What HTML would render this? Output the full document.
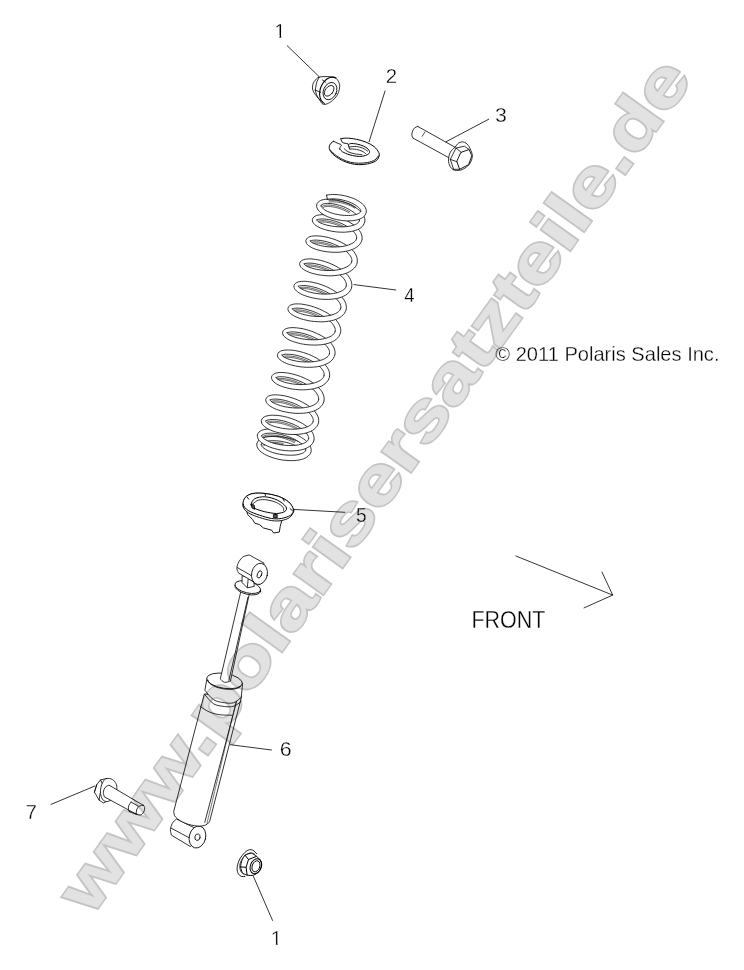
<!DOCTYPE html>
<html lang="de">
<head>
<meta charset="utf-8">
<title>Polaris Ersatzteile - Stossdaempfer</title>
<style>
html,body{margin:0;padding:0;background:#fff;}
body{width:744px;height:970px;overflow:hidden;position:relative;font-family:"Liberation Sans",sans-serif;}
svg{position:absolute;left:0;top:0;display:block;}
.ln{fill:none;stroke:#000;stroke-width:1;stroke-linecap:round;stroke-linejoin:round;}
.lf{fill:#fff;stroke:#000;stroke-width:1;stroke-linecap:round;stroke-linejoin:round;}
.ld{fill:none;stroke:#000;stroke-width:0.8;stroke-linecap:round;}
.lbl{font-family:"Liberation Sans",sans-serif;fill:#000;stroke:#fff;stroke-width:0.32px;}
.wm{font-family:"Liberation Sans",sans-serif;font-weight:bold;stroke-linejoin:miter;}
</style>
</head>
<body>
<svg width="744" height="970" viewBox="0 0 744 970">
<rect width="744" height="970" fill="#fff"/>
<g id="spring" stroke-linejoin="round" stroke-linecap="round">
<path d="M302.6 443.6 300.8 442.5 298.7 441.6 296.5 440.6 294.3 439.8 291.9 439.0 289.4 438.3 286.9 437.8 284.4 437.3 281.8 436.9 279.3 436.6 276.8 436.4 274.4 436.3 272.0 436.4 269.8 436.5 267.7 436.8 265.7 437.1 263.9 437.6 262.2 438.2 260.7 439.0 259.4 439.8 258.3 440.9 257.5 442.1 257.0 443.3 L261.1 444.7 261.3 444.1 261.6 443.6 262.1 443.1 262.8 442.6 263.9 442.1 265.1 441.7 266.6 441.3 268.3 441.0 270.2 440.8 272.2 440.7 274.3 440.7 276.5 440.8 278.8 441.0 281.2 441.3 283.5 441.8 285.9 442.3 288.2 442.9 290.4 443.6 292.6 444.3 294.7 445.2 296.6 446.0 298.4 447.0 300.0 448.0Z" fill="#fff" stroke="none"/>
<path d="M283.2 443.4 280.8 443.0 278.5 442.7 276.3 442.5 274.1 442.4 272.1 442.4 270.2 442.5 268.4 442.7 266.9 443.0 265.5 443.3 264.4 443.7 263.6 444.1 263.1 444.5 262.8 444.8 262.6 445.2 M283.0 444.7 280.6 444.3 278.4 444.0 276.2 443.8 274.1 443.7 272.1 443.7 270.3 443.8 268.6 444.0 267.2 444.2 265.9 444.6 265.0 444.9 264.3 445.3 263.9 445.5 263.8 445.6 263.7 445.9" fill="none" stroke="#000" stroke-width="0.7" opacity="0.85"/>
<path d="M302.6 443.6 300.8 442.5 298.7 441.6 296.5 440.6 294.3 439.8 291.9 439.0 289.4 438.3 286.9 437.8 284.4 437.3 281.8 436.9 279.3 436.6 276.8 436.4 274.4 436.3 272.0 436.4 269.8 436.5 267.7 436.8 265.7 437.1 263.9 437.6 262.2 438.2 260.7 439.0 259.4 439.8 258.3 440.9 257.5 442.1 257.0 443.3 M300.0 448.0 298.4 447.0 296.6 446.0 294.7 445.2 292.6 444.3 290.4 443.6 288.2 442.9 285.9 442.3 283.5 441.8 281.2 441.3 278.8 441.0 276.5 440.8 274.3 440.7 272.2 440.7 270.2 440.8 268.3 441.0 266.6 441.3 265.1 441.7 263.9 442.1 262.8 442.6 262.1 443.1 261.6 443.6 261.3 444.1 261.1 444.7 M302.6 443.6 L300.0 448.0" fill="none" stroke="#000" stroke-width="0.8"/>
<path d="M311.1 451.2 311.2 449.7 310.9 447.9 310.3 446.2 309.4 444.6 308.2 443.0 306.8 441.6 305.2 440.1 303.4 438.8 301.4 437.5 299.3 436.2 297.0 435.1 294.5 434.0 292.0 433.0 289.4 432.1 286.8 431.3 284.1 430.6 281.5 430.0 278.8 429.5 276.2 429.2 273.7 429.0 271.4 428.9 269.1 428.9 267.0 429.1 265.0 429.4 263.2 429.8 261.6 430.4 260.2 431.1 259.0 432.1 258.0 433.3 257.5 434.4 L261.6 436.0 261.7 435.4 262.0 435.1 262.5 434.7 263.3 434.3 264.4 433.9 265.8 433.5 267.4 433.3 269.3 433.2 271.3 433.2 273.4 433.3 275.7 433.5 278.1 433.9 280.5 434.4 283.0 435.0 285.5 435.7 287.9 436.5 290.3 437.4 292.6 438.4 294.8 439.4 296.9 440.6 298.7 441.7 300.4 442.9 301.9 444.1 303.2 445.3 304.2 446.4 304.9 447.4 305.4 448.4 305.6 449.2 305.7 449.8 305.6 450.6Z" fill="#fff" stroke="none"/>
<path d="M295.1 441.5 293.1 440.5 291.0 439.5 288.8 438.6 286.5 437.8 284.2 437.1 281.9 436.5 279.6 435.9 277.3 435.5 275.1 435.2 273.0 435.0 271.1 434.9 269.2 434.9 267.6 435.0 266.2 435.2 265.0 435.5 264.1 435.8 263.5 436.1 263.2 436.3 262.9 436.7 M294.6 442.7 292.5 441.7 290.5 440.7 288.4 439.9 286.1 439.1 283.9 438.3 281.6 437.7 279.4 437.2 277.1 436.8 275.0 436.5 273.0 436.3 271.0 436.2 269.3 436.2 267.7 436.3 266.4 436.5 265.3 436.7 264.6 437.0 264.2 437.2 264.1 437.3 263.9 437.5" fill="none" stroke="#000" stroke-width="0.7" opacity="0.85"/>
<path d="M311.1 451.2 311.2 449.7 310.9 447.9 310.3 446.2 309.4 444.6 308.2 443.0 306.8 441.6 305.2 440.1 303.4 438.8 301.4 437.5 299.3 436.2 297.0 435.1 294.5 434.0 292.0 433.0 289.4 432.1 286.8 431.3 284.1 430.6 281.5 430.0 278.8 429.5 276.2 429.2 273.7 429.0 271.4 428.9 269.1 428.9 267.0 429.1 265.0 429.4 263.2 429.8 261.6 430.4 260.2 431.1 259.0 432.1 258.0 433.3 257.5 434.4 M305.6 450.6 305.7 449.8 305.6 449.2 305.4 448.4 304.9 447.4 304.2 446.4 303.2 445.3 301.9 444.1 300.4 442.9 298.7 441.7 296.9 440.6 294.8 439.4 292.6 438.4 290.3 437.4 287.9 436.5 285.5 435.7 283.0 435.0 280.5 434.4 278.1 433.9 275.7 433.5 273.4 433.3 271.3 433.2 269.3 433.2 267.4 433.3 265.8 433.5 264.4 433.9 263.3 434.3 262.5 434.7 262.0 435.1 261.7 435.4 261.6 436.0" fill="none" stroke="#000" stroke-width="0.8"/>
<path d="M314.0 439.8 314.1 438.2 313.9 436.3 313.4 434.5 312.5 432.7 311.4 431.0 310.0 429.4 308.4 427.8 306.6 426.3 304.6 424.9 302.5 423.5 300.2 422.3 297.8 421.1 295.3 420.0 292.7 419.0 290.1 418.1 287.4 417.3 284.8 416.7 282.2 416.1 279.7 415.7 277.2 415.4 274.9 415.3 272.7 415.2 270.6 415.3 268.8 415.5 267.0 415.9 265.5 416.3 264.1 417.0 262.9 417.8 262.0 419.0 261.5 420.1 L265.6 421.5 265.7 421.2 265.8 421.0 266.3 420.6 267.0 420.3 268.1 420.0 269.4 419.7 270.9 419.6 272.7 419.5 274.7 419.6 276.8 419.7 279.0 420.1 281.4 420.5 283.8 421.0 286.2 421.7 288.6 422.5 291.1 423.4 293.4 424.3 295.7 425.4 297.9 426.5 299.9 427.8 301.8 429.0 303.4 430.3 304.9 431.6 306.1 432.9 307.1 434.1 307.8 435.3 308.3 436.4 308.6 437.3 308.7 438.2 308.5 439.2Z" fill="#fff" stroke="none"/>
<path d="M298.1 428.7 296.1 427.5 294.0 426.5 291.9 425.5 289.6 424.6 287.4 423.8 285.1 423.1 282.8 422.5 280.6 422.1 278.4 421.7 276.3 421.4 274.4 421.3 272.6 421.2 271.0 421.3 269.6 421.4 268.5 421.6 267.7 421.9 267.1 422.1 267.0 422.2 266.8 422.5 M297.5 429.8 295.5 428.7 293.5 427.7 291.4 426.7 289.2 425.9 287.0 425.1 284.7 424.4 282.5 423.8 280.3 423.3 278.2 423.0 276.2 422.7 274.3 422.6 272.6 422.5 271.1 422.5 269.8 422.7 268.8 422.9 268.1 423.1 267.8 423.2 267.8 423.2 267.7 423.4" fill="none" stroke="#000" stroke-width="0.7" opacity="0.85"/>
<path d="M314.0 439.8 314.1 438.2 313.9 436.3 313.4 434.5 312.5 432.7 311.4 431.0 310.0 429.4 308.4 427.8 306.6 426.3 304.6 424.9 302.5 423.5 300.2 422.3 297.8 421.1 295.3 420.0 292.7 419.0 290.1 418.1 287.4 417.3 284.8 416.7 282.2 416.1 279.7 415.7 277.2 415.4 274.9 415.3 272.7 415.2 270.6 415.3 268.8 415.5 267.0 415.9 265.5 416.3 264.1 417.0 262.9 417.8 262.0 419.0 261.5 420.1 M308.5 439.2 308.7 438.2 308.6 437.3 308.3 436.4 307.8 435.3 307.1 434.1 306.1 432.9 304.9 431.6 303.4 430.3 301.8 429.0 299.9 427.8 297.9 426.5 295.7 425.4 293.4 424.3 291.1 423.4 288.6 422.5 286.2 421.7 283.8 421.0 281.4 420.5 279.0 420.1 276.8 419.7 274.7 419.6 272.7 419.5 270.9 419.6 269.4 419.7 268.1 420.0 267.0 420.3 266.3 420.6 265.8 421.0 265.7 421.2 265.6 421.5" fill="none" stroke="#000" stroke-width="0.8"/>
<path d="M318.6 422.4 318.7 420.7 318.6 418.8 318.1 416.8 317.2 415.0 316.1 413.2 314.8 411.4 313.2 409.7 311.4 408.1 309.4 406.5 307.3 405.0 305.0 403.6 302.6 402.3 300.1 401.0 297.5 399.9 294.9 398.8 292.2 397.9 289.5 397.1 286.9 396.4 284.4 395.8 281.9 395.4 279.6 395.1 277.3 394.9 275.3 394.8 273.3 394.9 271.6 395.1 270.1 395.5 268.7 396.0 267.4 396.8 266.4 397.9 265.9 398.9 L270.0 400.5 270.0 400.2 270.1 400.1 270.5 399.8 271.3 399.5 272.3 399.3 273.7 399.1 275.3 399.1 277.1 399.2 279.1 399.3 281.2 399.7 283.5 400.1 285.8 400.7 288.3 401.4 290.7 402.2 293.2 403.1 295.6 404.1 298.0 405.3 300.3 406.5 302.5 407.8 304.5 409.1 306.4 410.5 308.1 411.9 309.5 413.3 310.8 414.7 311.8 416.1 312.5 417.4 313.0 418.6 313.2 419.7 313.3 420.6 313.1 421.8Z" fill="#fff" stroke="none"/>
<path d="M302.7 409.9 300.7 408.6 298.6 407.5 296.4 406.4 294.1 405.3 291.8 404.4 289.5 403.6 287.2 402.8 284.9 402.2 282.8 401.7 280.7 401.3 278.7 401.0 276.9 400.8 275.2 400.8 273.8 400.8 272.7 401.0 271.8 401.2 271.3 401.3 271.2 401.4 271.0 401.6 M302.0 411.0 300.0 409.8 298.0 408.6 295.8 407.5 293.6 406.5 291.4 405.6 289.1 404.8 286.9 404.1 284.6 403.5 282.5 403.0 280.5 402.6 278.5 402.3 276.8 402.1 275.2 402.1 273.9 402.1 272.9 402.3 272.2 402.4 271.8 402.5 271.9 402.5 271.9 402.5" fill="none" stroke="#000" stroke-width="0.7" opacity="0.85"/>
<path d="M318.6 422.4 318.7 420.7 318.6 418.8 318.1 416.8 317.2 415.0 316.1 413.2 314.8 411.4 313.2 409.7 311.4 408.1 309.4 406.5 307.3 405.0 305.0 403.6 302.6 402.3 300.1 401.0 297.5 399.9 294.9 398.8 292.2 397.9 289.5 397.1 286.9 396.4 284.4 395.8 281.9 395.4 279.6 395.1 277.3 394.9 275.3 394.8 273.3 394.9 271.6 395.1 270.1 395.5 268.7 396.0 267.4 396.8 266.4 397.9 265.9 398.9 M313.1 421.8 313.3 420.6 313.2 419.7 313.0 418.6 312.5 417.4 311.8 416.1 310.8 414.7 309.5 413.3 308.1 411.9 306.4 410.5 304.5 409.1 302.5 407.8 300.3 406.5 298.0 405.3 295.6 404.1 293.2 403.1 290.7 402.2 288.3 401.4 285.8 400.7 283.5 400.1 281.2 399.7 279.1 399.3 277.1 399.2 275.3 399.1 273.7 399.1 272.3 399.3 271.3 399.5 270.5 399.8 270.1 400.1 270.0 400.2 270.0 400.5" fill="none" stroke="#000" stroke-width="0.8"/>
<path d="M324.0 400.8 324.2 399.1 324.0 397.1 323.5 395.1 322.7 393.1 321.6 391.2 320.2 389.4 318.7 387.7 316.9 386.0 314.9 384.3 312.8 382.8 310.5 381.3 308.1 379.9 305.6 378.7 303.0 377.5 300.4 376.4 297.7 375.5 295.1 374.7 292.5 374.0 289.9 373.4 287.5 373.0 285.1 372.7 282.9 372.5 280.9 372.5 279.0 372.5 277.3 372.8 275.8 373.1 274.4 373.7 273.2 374.4 272.2 375.5 271.7 376.5 L275.8 378.1 275.8 377.8 275.9 377.7 276.3 377.5 277.0 377.2 278.0 376.9 279.4 376.8 280.9 376.7 282.7 376.8 284.7 376.9 286.8 377.3 289.0 377.7 291.4 378.3 293.8 379.0 296.2 379.8 298.7 380.7 301.1 381.8 303.5 382.9 305.7 384.1 307.9 385.5 309.9 386.8 311.8 388.3 313.5 389.7 314.9 391.2 316.2 392.7 317.1 394.1 317.9 395.5 318.4 396.7 318.6 397.9 318.7 399.0 318.5 400.2Z" fill="#fff" stroke="none"/>
<path d="M308.1 387.6 306.1 386.3 304.0 385.1 301.8 384.0 299.6 382.9 297.3 382.0 295.0 381.1 292.7 380.4 290.5 379.8 288.3 379.3 286.2 378.9 284.3 378.6 282.5 378.5 280.9 378.4 279.5 378.5 278.4 378.6 277.5 378.8 277.1 379.0 276.9 379.0 276.8 379.2 M307.4 388.7 305.4 387.4 303.4 386.3 301.3 385.2 299.1 384.1 296.8 383.2 294.6 382.4 292.4 381.7 290.2 381.0 288.1 380.6 286.0 380.2 284.2 379.9 282.4 379.8 280.9 379.7 279.6 379.8 278.6 379.9 277.9 380.0 277.6 380.1 277.7 380.1 277.7 380.1" fill="none" stroke="#000" stroke-width="0.7" opacity="0.85"/>
<path d="M324.0 400.8 324.2 399.1 324.0 397.1 323.5 395.1 322.7 393.1 321.6 391.2 320.2 389.4 318.7 387.7 316.9 386.0 314.9 384.3 312.8 382.8 310.5 381.3 308.1 379.9 305.6 378.7 303.0 377.5 300.4 376.4 297.7 375.5 295.1 374.7 292.5 374.0 289.9 373.4 287.5 373.0 285.1 372.7 282.9 372.5 280.9 372.5 279.0 372.5 277.3 372.8 275.8 373.1 274.4 373.7 273.2 374.4 272.2 375.5 271.7 376.5 M318.5 400.2 318.7 399.0 318.6 397.9 318.4 396.7 317.9 395.5 317.1 394.1 316.2 392.7 314.9 391.2 313.5 389.7 311.8 388.3 309.9 386.8 307.9 385.5 305.7 384.1 303.5 382.9 301.1 381.8 298.7 380.7 296.2 379.8 293.8 379.0 291.4 378.3 289.0 377.7 286.8 377.3 284.7 376.9 282.7 376.8 280.9 376.7 279.4 376.8 278.0 376.9 277.0 377.2 276.3 377.5 275.9 377.7 275.8 377.8 275.8 378.1" fill="none" stroke="#000" stroke-width="0.8"/>
<path d="M329.5 376.6 329.7 374.9 329.5 372.9 329.0 370.9 328.2 369.1 327.1 367.2 325.7 365.5 324.2 363.8 322.4 362.2 320.4 360.7 318.3 359.2 316.0 357.8 313.6 356.6 311.2 355.4 308.6 354.3 306.0 353.4 303.4 352.5 300.8 351.8 298.2 351.2 295.7 350.7 293.2 350.3 290.9 350.1 288.7 350.0 286.7 350.0 284.8 350.1 283.1 350.4 281.6 350.7 280.3 351.3 279.1 352.0 278.1 353.1 277.6 354.1 L281.7 355.7 281.7 355.4 281.8 355.3 282.2 355.1 282.9 354.8 283.9 354.5 285.3 354.3 286.8 354.2 288.6 354.3 290.5 354.4 292.7 354.6 294.9 355.0 297.2 355.5 299.6 356.1 302.0 356.9 304.4 357.7 306.8 358.7 309.2 359.7 311.4 360.8 313.6 362.1 315.6 363.3 317.4 364.7 319.1 366.0 320.5 367.4 321.7 368.8 322.7 370.1 323.4 371.4 323.9 372.6 324.1 373.8 324.2 374.8 324.0 376.0Z" fill="#fff" stroke="none"/>
<path d="M313.8 364.2 311.8 363.0 309.7 361.9 307.6 360.8 305.4 359.9 303.1 359.0 300.8 358.3 298.6 357.6 296.4 357.1 294.2 356.6 292.2 356.3 290.2 356.1 288.4 356.0 286.8 355.9 285.5 356.0 284.3 356.2 283.5 356.4 283.0 356.6 282.8 356.6 282.7 356.8 M313.1 365.3 311.2 364.1 309.2 363.0 307.1 362.0 304.9 361.1 302.7 360.3 300.5 359.5 298.3 358.9 296.1 358.3 294.0 357.9 292.0 357.6 290.1 357.4 288.4 357.3 286.9 357.2 285.6 357.3 284.6 357.5 283.9 357.6 283.5 357.7 283.6 357.7 283.6 357.8" fill="none" stroke="#000" stroke-width="0.7" opacity="0.85"/>
<path d="M329.5 376.6 329.7 374.9 329.5 372.9 329.0 370.9 328.2 369.1 327.1 367.2 325.7 365.5 324.2 363.8 322.4 362.2 320.4 360.7 318.3 359.2 316.0 357.8 313.6 356.6 311.2 355.4 308.6 354.3 306.0 353.4 303.4 352.5 300.8 351.8 298.2 351.2 295.7 350.7 293.2 350.3 290.9 350.1 288.7 350.0 286.7 350.0 284.8 350.1 283.1 350.4 281.6 350.7 280.3 351.3 279.1 352.0 278.1 353.1 277.6 354.1 M324.0 376.0 324.2 374.8 324.1 373.8 323.9 372.6 323.4 371.4 322.7 370.1 321.7 368.8 320.5 367.4 319.1 366.0 317.4 364.7 315.6 363.3 313.6 362.1 311.4 360.8 309.2 359.7 306.8 358.7 304.4 357.7 302.0 356.9 299.6 356.1 297.2 355.5 294.9 355.0 292.7 354.6 290.5 354.4 288.6 354.3 286.8 354.2 285.3 354.3 283.9 354.5 282.9 354.8 282.2 355.1 281.8 355.3 281.7 355.4 281.7 355.7" fill="none" stroke="#000" stroke-width="0.8"/>
<path d="M334.9 354.5 335.1 352.8 334.9 350.8 334.4 348.9 333.6 347.0 332.5 345.2 331.2 343.4 329.6 341.7 327.8 340.1 325.9 338.6 323.7 337.1 321.4 335.7 319.0 334.5 316.5 333.3 314.0 332.2 311.4 331.2 308.7 330.3 306.1 329.6 303.5 328.9 301.0 328.4 298.5 328.1 296.2 327.8 294.0 327.7 291.9 327.6 290.0 327.8 288.3 328.0 286.8 328.4 285.4 328.9 284.2 329.6 283.2 330.7 282.8 331.7 L286.7 333.3 286.8 333.0 286.9 332.9 287.3 332.7 288.0 332.4 289.1 332.2 290.4 332.0 292.0 331.9 293.8 331.9 295.8 332.1 297.9 332.4 300.2 332.7 302.5 333.3 304.9 333.9 307.3 334.7 309.8 335.5 312.2 336.5 314.6 337.6 316.8 338.7 319.0 339.9 321.0 341.2 322.8 342.6 324.5 344.0 325.9 345.4 327.1 346.7 328.1 348.1 328.8 349.4 329.3 350.6 329.5 351.7 329.6 352.7 329.4 353.9Z" fill="#fff" stroke="none"/>
<path d="M319.2 342.1 317.2 340.9 315.1 339.7 313.0 338.7 310.7 337.7 308.5 336.8 306.2 336.1 303.9 335.4 301.6 334.8 299.5 334.3 297.4 334.0 295.4 333.8 293.6 333.6 292.0 333.6 290.6 333.7 289.4 333.8 288.6 334.0 288.1 334.2 287.9 334.3 287.8 334.5 M318.5 343.2 316.5 342.0 314.5 340.9 312.4 339.9 310.2 338.9 308.0 338.1 305.8 337.3 303.5 336.6 301.4 336.1 299.2 335.6 297.2 335.3 295.3 335.1 293.6 334.9 292.0 334.9 290.7 335.0 289.7 335.1 288.9 335.3 288.6 335.4 288.7 335.3 288.7 335.4" fill="none" stroke="#000" stroke-width="0.7" opacity="0.85"/>
<path d="M334.9 354.5 335.1 352.8 334.9 350.8 334.4 348.9 333.6 347.0 332.5 345.2 331.2 343.4 329.6 341.7 327.8 340.1 325.9 338.6 323.7 337.1 321.4 335.7 319.0 334.5 316.5 333.3 314.0 332.2 311.4 331.2 308.7 330.3 306.1 329.6 303.5 328.9 301.0 328.4 298.5 328.1 296.2 327.8 294.0 327.7 291.9 327.6 290.0 327.8 288.3 328.0 286.8 328.4 285.4 328.9 284.2 329.6 283.2 330.7 282.8 331.7 M329.4 353.9 329.6 352.7 329.5 351.7 329.3 350.6 328.8 349.4 328.1 348.1 327.1 346.7 325.9 345.4 324.5 344.0 322.8 342.6 321.0 341.2 319.0 339.9 316.8 338.7 314.6 337.6 312.2 336.5 309.8 335.5 307.3 334.7 304.9 333.9 302.5 333.3 300.2 332.7 297.9 332.4 295.8 332.1 293.8 331.9 292.0 331.9 290.4 332.0 289.1 332.2 288.0 332.4 287.3 332.7 286.9 332.9 286.8 333.0 286.7 333.3" fill="none" stroke="#000" stroke-width="0.8"/>
<path d="M340.6 332.3 340.8 330.6 340.6 328.6 340.1 326.6 339.3 324.7 338.2 322.8 336.9 321.0 335.3 319.2 333.5 317.6 331.5 315.9 329.4 314.4 327.1 312.9 324.7 311.6 322.2 310.3 319.6 309.1 316.9 308.0 314.3 307.1 311.6 306.2 309.0 305.5 306.5 304.9 304.0 304.5 301.7 304.1 299.5 303.9 297.4 303.9 295.5 303.9 293.8 304.1 292.2 304.5 290.8 305.0 289.6 305.7 288.6 306.8 288.1 307.8 L292.2 309.4 292.2 309.1 292.3 309.0 292.6 308.8 293.4 308.5 294.4 308.3 295.8 308.2 297.4 308.1 299.2 308.2 301.1 308.4 303.3 308.7 305.5 309.2 307.9 309.8 310.3 310.5 312.8 311.3 315.2 312.3 317.7 313.4 320.1 314.5 322.3 315.7 324.5 317.1 326.6 318.4 328.4 319.9 330.1 321.3 331.6 322.8 332.8 324.2 333.8 325.6 334.5 327.0 335.0 328.3 335.2 329.4 335.3 330.5 335.1 331.7Z" fill="#fff" stroke="none"/>
<path d="M324.7 319.2 322.7 317.9 320.6 316.7 318.4 315.6 316.2 314.5 313.9 313.6 311.6 312.7 309.3 312.0 307.0 311.3 304.8 310.8 302.7 310.4 300.8 310.1 298.9 309.9 297.3 309.8 295.9 309.9 294.8 310.0 293.9 310.2 293.4 310.3 293.3 310.4 293.2 310.6 M324.0 320.3 322.0 319.0 320.0 317.9 317.9 316.8 315.6 315.7 313.4 314.8 311.1 313.9 308.9 313.2 306.7 312.6 304.5 312.1 302.5 311.7 300.6 311.4 298.9 311.2 297.3 311.1 296.0 311.2 295.0 311.3 294.2 311.4 293.9 311.5 294.1 311.4 294.1 311.5" fill="none" stroke="#000" stroke-width="0.7" opacity="0.85"/>
<path d="M340.6 332.3 340.8 330.6 340.6 328.6 340.1 326.6 339.3 324.7 338.2 322.8 336.9 321.0 335.3 319.2 333.5 317.6 331.5 315.9 329.4 314.4 327.1 312.9 324.7 311.6 322.2 310.3 319.6 309.1 316.9 308.0 314.3 307.1 311.6 306.2 309.0 305.5 306.5 304.9 304.0 304.5 301.7 304.1 299.5 303.9 297.4 303.9 295.5 303.9 293.8 304.1 292.2 304.5 290.8 305.0 289.6 305.7 288.6 306.8 288.1 307.8 M335.1 331.7 335.3 330.5 335.2 329.4 335.0 328.3 334.5 327.0 333.8 325.6 332.8 324.2 331.6 322.8 330.1 321.3 328.4 319.9 326.6 318.4 324.5 317.1 322.3 315.7 320.1 314.5 317.7 313.4 315.2 312.3 312.8 311.3 310.3 310.5 307.9 309.8 305.5 309.2 303.3 308.7 301.1 308.4 299.2 308.2 297.4 308.1 295.8 308.2 294.4 308.3 293.4 308.5 292.6 308.8 292.3 309.0 292.2 309.1 292.2 309.4" fill="none" stroke="#000" stroke-width="0.8"/>
<path d="M346.2 309.1 346.4 307.4 346.2 305.4 345.7 303.4 344.9 301.5 343.8 299.6 342.5 297.8 340.9 296.1 339.1 294.5 337.1 292.9 335.0 291.4 332.7 289.9 330.3 288.6 327.8 287.3 325.3 286.2 322.6 285.2 320.0 284.2 317.4 283.4 314.8 282.8 312.3 282.2 309.8 281.8 307.5 281.5 305.3 281.3 303.3 281.3 301.4 281.4 299.7 281.6 298.2 281.9 296.8 282.5 295.6 283.2 294.6 284.3 294.1 285.3 L298.2 286.9 298.2 286.6 298.3 286.5 298.6 286.3 299.4 286.0 300.4 285.8 301.7 285.6 303.3 285.5 305.1 285.6 307.0 285.8 309.1 286.1 311.4 286.5 313.7 287.1 316.1 287.7 318.6 288.5 321.0 289.5 323.4 290.5 325.8 291.6 328.0 292.8 330.2 294.1 332.2 295.4 334.1 296.8 335.7 298.2 337.2 299.7 338.4 301.1 339.4 302.5 340.1 303.8 340.6 305.1 340.8 306.2 340.9 307.3 340.7 308.5Z" fill="#fff" stroke="none"/>
<path d="M330.4 296.2 328.4 295.0 326.3 293.8 324.1 292.7 321.9 291.7 319.6 290.8 317.3 289.9 315.1 289.2 312.8 288.6 310.7 288.1 308.6 287.7 306.7 287.4 304.9 287.3 303.3 287.2 301.9 287.3 300.8 287.4 299.9 287.6 299.4 287.8 299.3 287.8 299.2 288.0 M329.7 297.3 327.7 296.1 325.7 294.9 323.6 293.9 321.4 292.9 319.2 292.0 316.9 291.2 314.7 290.5 312.5 289.9 310.4 289.4 308.4 289.0 306.5 288.7 304.8 288.6 303.3 288.5 302.0 288.6 301.0 288.7 300.3 288.9 300.0 289.0 300.1 288.9 300.1 289.0" fill="none" stroke="#000" stroke-width="0.7" opacity="0.85"/>
<path d="M346.2 309.1 346.4 307.4 346.2 305.4 345.7 303.4 344.9 301.5 343.8 299.6 342.5 297.8 340.9 296.1 339.1 294.5 337.1 292.9 335.0 291.4 332.7 289.9 330.3 288.6 327.8 287.3 325.3 286.2 322.6 285.2 320.0 284.2 317.4 283.4 314.8 282.8 312.3 282.2 309.8 281.8 307.5 281.5 305.3 281.3 303.3 281.3 301.4 281.4 299.7 281.6 298.2 281.9 296.8 282.5 295.6 283.2 294.6 284.3 294.1 285.3 M340.7 308.5 340.9 307.3 340.8 306.2 340.6 305.1 340.1 303.8 339.4 302.5 338.4 301.1 337.2 299.7 335.7 298.2 334.1 296.8 332.2 295.4 330.2 294.1 328.0 292.8 325.8 291.6 323.4 290.5 321.0 289.5 318.6 288.5 316.1 287.7 313.7 287.1 311.4 286.5 309.1 286.1 307.0 285.8 305.1 285.6 303.3 285.5 301.7 285.6 300.4 285.8 299.4 286.0 298.6 286.3 298.3 286.5 298.2 286.6 298.2 286.9" fill="none" stroke="#000" stroke-width="0.8"/>
<path d="M351.7 286.9 351.9 285.2 351.7 283.2 351.2 281.2 350.4 279.3 349.3 277.4 348.0 275.6 346.4 273.8 344.7 272.2 342.7 270.5 340.6 269.0 338.3 267.6 335.9 266.2 333.4 264.9 330.9 263.8 328.3 262.7 325.6 261.8 323.0 261.0 320.4 260.3 317.9 259.8 315.5 259.4 313.2 259.1 311.0 258.9 308.9 258.9 307.1 259.0 305.4 259.2 303.8 259.6 302.5 260.1 301.3 260.8 300.3 261.9 299.8 262.9 L303.9 264.5 303.9 264.2 304.0 264.1 304.3 263.9 305.1 263.6 306.1 263.4 307.4 263.2 309.0 263.1 310.7 263.2 312.7 263.3 314.8 263.6 317.0 264.1 319.4 264.6 321.7 265.3 324.2 266.1 326.6 267.0 329.0 268.0 331.3 269.2 333.6 270.4 335.8 271.7 337.8 273.1 339.6 274.5 341.2 275.9 342.7 277.4 343.9 278.8 344.9 280.2 345.6 281.6 346.1 282.8 346.3 284.0 346.4 285.1 346.2 286.3Z" fill="#fff" stroke="none"/>
<path d="M335.9 273.8 333.9 272.5 331.9 271.4 329.7 270.3 327.5 269.2 325.2 268.3 323.0 267.5 320.7 266.8 318.5 266.2 316.3 265.7 314.3 265.3 312.3 265.0 310.6 264.9 309.0 264.8 307.6 264.9 306.5 265.0 305.6 265.2 305.1 265.4 305.0 265.5 304.9 265.6 M335.2 274.9 333.3 273.7 331.3 272.5 329.2 271.4 327.0 270.4 324.8 269.5 322.6 268.7 320.3 268.0 318.2 267.4 316.1 266.9 314.1 266.6 312.2 266.3 310.5 266.2 309.0 266.1 307.7 266.2 306.7 266.3 306.0 266.5 305.7 266.6 305.8 266.5 305.8 266.6" fill="none" stroke="#000" stroke-width="0.7" opacity="0.85"/>
<path d="M351.7 286.9 351.9 285.2 351.7 283.2 351.2 281.2 350.4 279.3 349.3 277.4 348.0 275.6 346.4 273.8 344.7 272.2 342.7 270.5 340.6 269.0 338.3 267.6 335.9 266.2 333.4 264.9 330.9 263.8 328.3 262.7 325.6 261.8 323.0 261.0 320.4 260.3 317.9 259.8 315.5 259.4 313.2 259.1 311.0 258.9 308.9 258.9 307.1 259.0 305.4 259.2 303.8 259.6 302.5 260.1 301.3 260.8 300.3 261.9 299.8 262.9 M346.2 286.3 346.4 285.1 346.3 284.0 346.1 282.8 345.6 281.6 344.9 280.2 343.9 278.8 342.7 277.4 341.2 275.9 339.6 274.5 337.8 273.1 335.8 271.7 333.6 270.4 331.3 269.2 329.0 268.0 326.6 267.0 324.2 266.1 321.7 265.3 319.4 264.6 317.0 264.1 314.8 263.6 312.7 263.3 310.7 263.2 309.0 263.1 307.4 263.2 306.1 263.4 305.1 263.6 304.3 263.9 304.0 264.1 303.9 264.2 303.9 264.5" fill="none" stroke="#000" stroke-width="0.8"/>
<path d="M357.2 262.4 357.3 260.7 357.2 258.7 356.7 256.8 355.9 254.9 354.8 253.0 353.5 251.3 351.9 249.6 350.1 248.0 348.2 246.5 346.1 245.0 343.8 243.7 341.5 242.4 339.0 241.2 336.5 240.2 333.9 239.2 331.3 238.4 328.7 237.6 326.2 237.0 323.7 236.6 321.3 236.2 319.0 236.0 316.9 235.9 314.9 235.9 313.1 236.0 311.4 236.3 309.9 236.7 308.6 237.2 307.4 238.0 306.5 239.0 306.0 240.1 L310.1 241.5 310.1 241.3 310.2 241.2 310.5 241.0 311.2 240.7 312.2 240.4 313.5 240.2 315.0 240.1 316.8 240.1 318.7 240.3 320.8 240.5 322.9 240.9 325.2 241.4 327.6 242.0 330.0 242.7 332.4 243.5 334.7 244.5 337.0 245.5 339.3 246.6 341.4 247.9 343.4 249.1 345.2 250.5 346.8 251.8 348.2 253.2 349.4 254.6 350.4 255.9 351.1 257.2 351.6 258.4 351.8 259.6 351.9 260.6 351.7 261.8Z" fill="#fff" stroke="none"/>
<path d="M341.6 250.0 339.6 248.8 337.6 247.7 335.5 246.7 333.3 245.7 331.0 244.9 328.8 244.1 326.6 243.5 324.4 242.9 322.3 242.5 320.3 242.2 318.4 241.9 316.6 241.8 315.1 241.8 313.7 241.9 312.6 242.1 311.8 242.3 311.3 242.5 311.2 242.5 311.1 242.7 M340.9 251.1 339.0 249.9 337.0 248.8 334.9 247.8 332.8 246.9 330.6 246.1 328.4 245.3 326.3 244.7 324.1 244.2 322.1 243.8 320.1 243.4 318.3 243.2 316.6 243.1 315.1 243.1 313.9 243.2 312.9 243.4 312.2 243.5 311.9 243.6 312.0 243.5 312.1 243.6" fill="none" stroke="#000" stroke-width="0.7" opacity="0.85"/>
<path d="M357.2 262.4 357.3 260.7 357.2 258.7 356.7 256.8 355.9 254.9 354.8 253.0 353.5 251.3 351.9 249.6 350.1 248.0 348.2 246.5 346.1 245.0 343.8 243.7 341.5 242.4 339.0 241.2 336.5 240.2 333.9 239.2 331.3 238.4 328.7 237.6 326.2 237.0 323.7 236.6 321.3 236.2 319.0 236.0 316.9 235.9 314.9 235.9 313.1 236.0 311.4 236.3 309.9 236.7 308.6 237.2 307.4 238.0 306.5 239.0 306.0 240.1 M351.7 261.8 351.9 260.6 351.8 259.6 351.6 258.4 351.1 257.2 350.4 255.9 349.4 254.6 348.2 253.2 346.8 251.8 345.2 250.5 343.4 249.1 341.4 247.9 339.3 246.6 337.0 245.5 334.7 244.5 332.4 243.5 330.0 242.7 327.6 242.0 325.2 241.4 322.9 240.9 320.8 240.5 318.7 240.3 316.8 240.1 315.0 240.1 313.5 240.2 312.2 240.4 311.2 240.7 310.5 241.0 310.2 241.2 310.1 241.3 310.1 241.5" fill="none" stroke="#000" stroke-width="0.8"/>
<path d="M362.0 239.5 362.1 237.8 361.9 235.9 361.4 234.1 360.6 232.3 359.5 230.6 358.2 229.0 356.7 227.4 355.0 225.9 353.1 224.5 351.0 223.1 348.9 221.8 346.6 220.7 344.2 219.6 341.8 218.6 339.3 217.7 336.8 216.9 334.3 216.2 331.9 215.7 329.5 215.3 327.2 215.0 325.0 214.8 323.0 214.7 321.1 214.7 319.3 214.9 317.7 215.2 316.3 215.6 315.0 216.2 313.8 217.0 312.9 218.1 312.5 219.1 L316.6 220.5 316.6 220.2 316.7 220.1 317.0 219.9 317.7 219.6 318.6 219.3 319.8 219.1 321.3 219.0 322.9 219.0 324.7 219.1 326.7 219.3 328.8 219.6 331.0 220.0 333.2 220.6 335.5 221.3 337.8 222.0 340.0 222.9 342.3 223.9 344.4 224.9 346.4 226.1 348.4 227.3 350.1 228.5 351.7 229.8 353.1 231.1 354.2 232.3 355.2 233.6 355.9 234.8 356.3 235.9 356.6 236.9 356.7 237.8 356.5 238.9Z" fill="#fff" stroke="none"/>
<path d="M346.6 228.2 344.7 227.0 342.8 226.0 340.7 225.1 338.6 224.2 336.5 223.4 334.4 222.7 332.3 222.1 330.2 221.6 328.2 221.2 326.2 220.9 324.5 220.7 322.8 220.7 321.3 220.7 320.1 220.8 319.1 221.0 318.3 221.2 317.9 221.3 317.8 221.4 317.7 221.6 M346.0 229.3 344.1 228.2 342.2 227.2 340.2 226.3 338.2 225.4 336.1 224.6 334.0 223.9 331.9 223.4 329.9 222.9 328.0 222.5 326.1 222.2 324.4 222.0 322.8 222.0 321.4 222.0 320.2 222.1 319.3 222.2 318.8 222.4 318.5 222.5 318.7 222.4 318.7 222.4" fill="none" stroke="#000" stroke-width="0.7" opacity="0.85"/>
<path d="M362.0 239.5 362.1 237.8 361.9 235.9 361.4 234.1 360.6 232.3 359.5 230.6 358.2 229.0 356.7 227.4 355.0 225.9 353.1 224.5 351.0 223.1 348.9 221.8 346.6 220.7 344.2 219.6 341.8 218.6 339.3 217.7 336.8 216.9 334.3 216.2 331.9 215.7 329.5 215.3 327.2 215.0 325.0 214.8 323.0 214.7 321.1 214.7 319.3 214.9 317.7 215.2 316.3 215.6 315.0 216.2 313.8 217.0 312.9 218.1 312.5 219.1 M356.5 238.9 356.7 237.8 356.6 236.9 356.3 235.9 355.9 234.8 355.2 233.6 354.2 232.3 353.1 231.1 351.7 229.8 350.1 228.5 348.4 227.3 346.4 226.1 344.4 224.9 342.3 223.9 340.0 222.9 337.8 222.0 335.5 221.3 333.2 220.6 331.0 220.0 328.8 219.6 326.7 219.3 324.7 219.1 322.9 219.0 321.3 219.0 319.8 219.1 318.6 219.3 317.7 219.6 317.0 219.9 316.7 220.1 316.6 220.2 316.6 220.5" fill="none" stroke="#000" stroke-width="0.8"/>
<path d="M364.8 221.6 364.9 220.1 364.7 218.3 364.1 216.6 363.3 215.0 362.3 213.5 361.0 212.0 359.5 210.6 357.9 209.2 356.1 207.9 354.1 206.7 352.1 205.5 349.9 204.4 347.6 203.4 345.3 202.5 342.9 201.7 340.5 201.0 338.2 200.4 335.8 199.9 333.5 199.5 331.3 199.3 329.2 199.1 327.2 199.2 325.3 199.3 323.5 199.6 321.9 200.0 320.5 200.5 319.2 201.3 318.1 202.2 317.2 203.4 316.8 204.5 L320.9 205.9 321.0 205.4 321.2 205.1 321.6 204.7 322.3 204.4 323.2 204.0 324.3 203.7 325.7 203.5 327.3 203.4 329.0 203.5 330.9 203.6 332.9 203.8 335.0 204.2 337.1 204.7 339.3 205.3 341.5 206.0 343.6 206.8 345.7 207.7 347.8 208.7 349.7 209.8 351.5 210.9 353.2 212.0 354.7 213.2 356.0 214.3 357.1 215.5 358.0 216.6 358.7 217.7 359.1 218.6 359.4 219.5 359.4 220.2 359.3 221.0Z" fill="#fff" stroke="none"/>
<path d="M349.9 211.8 348.0 210.8 346.2 209.8 344.3 208.9 342.3 208.1 340.3 207.4 338.2 206.8 336.2 206.2 334.2 205.8 332.3 205.5 330.5 205.3 328.8 205.1 327.3 205.1 325.9 205.2 324.7 205.4 323.7 205.6 323.0 205.9 322.6 206.1 322.5 206.2 322.3 206.6 M349.2 213.0 347.4 211.9 345.7 211.0 343.8 210.1 341.8 209.4 339.9 208.6 337.9 208.0 335.9 207.5 334.0 207.1 332.1 206.8 330.4 206.6 328.8 206.4 327.3 206.4 326.0 206.5 324.9 206.7 324.1 206.9 323.6 207.1 323.4 207.2 323.4 207.1 323.3 207.4" fill="none" stroke="#000" stroke-width="0.7" opacity="0.85"/>
<path d="M364.8 221.6 364.9 220.1 364.7 218.3 364.1 216.6 363.3 215.0 362.3 213.5 361.0 212.0 359.5 210.6 357.9 209.2 356.1 207.9 354.1 206.7 352.1 205.5 349.9 204.4 347.6 203.4 345.3 202.5 342.9 201.7 340.5 201.0 338.2 200.4 335.8 199.9 333.5 199.5 331.3 199.3 329.2 199.1 327.2 199.2 325.3 199.3 323.5 199.6 321.9 200.0 320.5 200.5 319.2 201.3 318.1 202.2 317.2 203.4 316.8 204.5 M359.3 221.0 359.4 220.2 359.4 219.5 359.1 218.6 358.7 217.7 358.0 216.6 357.1 215.5 356.0 214.3 354.7 213.2 353.2 212.0 351.5 210.9 349.7 209.8 347.8 208.7 345.7 207.7 343.6 206.8 341.5 206.0 339.3 205.3 337.1 204.7 335.0 204.2 332.9 203.8 330.9 203.6 329.0 203.5 327.3 203.4 325.7 203.5 324.3 203.7 323.2 204.0 322.3 204.4 321.6 204.7 321.2 205.1 321.0 205.4 320.9 205.9" fill="none" stroke="#000" stroke-width="0.8"/>
<path d="M366.2 212.1 366.3 210.8 366.0 209.2 365.4 207.7 364.5 206.2 363.5 204.9 362.2 203.7 360.7 202.5 359.1 201.4 357.3 200.3 355.4 199.3 353.3 198.4 351.2 197.6 348.9 196.9 346.6 196.2 344.3 195.7 341.9 195.2 339.5 194.9 337.2 194.6 334.9 194.5 332.6 194.5 330.5 194.6 328.4 194.8 326.6 195.1 L327.3 199.3 329.0 199.0 330.8 198.9 332.7 198.8 334.7 198.9 336.8 199.1 338.9 199.3 341.1 199.7 343.2 200.2 345.4 200.7 347.5 201.4 349.5 202.1 351.4 202.9 353.2 203.8 354.8 204.7 356.3 205.6 357.6 206.6 358.7 207.5 359.5 208.4 360.1 209.2 360.5 210.0 360.7 210.6 360.8 211.0 360.7 211.7Z" fill="#fff" stroke="none"/>
<path d="M355.4 207.1 353.9 206.1 352.4 205.3 350.6 204.4 348.8 203.7 346.8 203.0 344.8 202.3 342.7 201.8 340.6 201.3 338.5 201.0 336.5 200.7 334.5 200.6 332.5 200.5 330.7 200.6 329.0 200.7 M354.8 208.2 353.3 207.3 351.8 206.4 350.1 205.6 348.3 204.9 346.4 204.2 344.5 203.6 342.4 203.1 340.4 202.6 338.4 202.3 336.3 202.0 334.4 201.9 332.5 201.8 330.8 201.9 329.1 202.0" fill="none" stroke="#000" stroke-width="0.7" opacity="0.85"/>
<path d="M366.2 212.1 366.3 210.8 366.0 209.2 365.4 207.7 364.5 206.2 363.5 204.9 362.2 203.7 360.7 202.5 359.1 201.4 357.3 200.3 355.4 199.3 353.3 198.4 351.2 197.6 348.9 196.9 346.6 196.2 344.3 195.7 341.9 195.2 339.5 194.9 337.2 194.6 334.9 194.5 332.6 194.5 330.5 194.6 328.4 194.8 326.6 195.1 M360.7 211.7 360.8 211.0 360.7 210.6 360.5 210.0 360.1 209.2 359.5 208.4 358.7 207.5 357.6 206.6 356.3 205.6 354.8 204.7 353.2 203.8 351.4 202.9 349.5 202.1 347.5 201.4 345.4 200.7 343.2 200.2 341.1 199.7 338.9 199.3 336.8 199.1 334.7 198.9 332.7 198.8 330.8 198.9 329.0 199.0 327.3 199.3 M326.6 195.1 L327.3 199.3" fill="none" stroke="#000" stroke-width="0.8"/>
<path d="M256.9 443.8 256.8 445.1 257.1 446.7 257.7 448.1 258.6 449.5 259.8 450.8 261.2 452.0 262.8 453.1 264.5 454.2 266.5 455.3 268.7 456.2 271.0 457.1 273.4 457.9 275.9 458.6 278.5 459.3 281.2 459.8 283.8 460.2 286.5 460.4 289.2 460.6 291.8 460.6 294.3 460.6 296.8 460.3 299.1 460.0 301.3 459.5 303.3 458.9 305.2 458.1 306.8 457.2 308.3 456.0 309.5 454.7 310.5 453.2 311.0 451.8 L305.7 450.0 305.5 450.8 305.2 451.3 304.6 451.9 303.8 452.5 302.7 453.1 301.4 453.6 299.8 454.1 298.1 454.6 296.1 454.9 294.0 455.1 291.7 455.2 289.3 455.2 286.9 455.1 284.4 454.9 282.0 454.6 279.5 454.2 277.1 453.7 274.8 453.1 272.6 452.5 270.5 451.7 268.5 450.9 266.8 450.1 265.3 449.2 264.0 448.3 262.9 447.5 262.1 446.7 261.6 445.9 261.3 445.3 261.1 444.8 261.2 444.2Z" fill="#fff" stroke="none"/>
<path d="M256.9 443.8 256.8 445.1 257.1 446.7 257.7 448.1 258.6 449.5 259.8 450.8 261.2 452.0 262.8 453.1 264.5 454.2 266.5 455.3 268.7 456.2 271.0 457.1 273.4 457.9 275.9 458.6 278.5 459.3 281.2 459.8 283.8 460.2 286.5 460.4 289.2 460.6 291.8 460.6 294.3 460.6 296.8 460.3 299.1 460.0 301.3 459.5 303.3 458.9 305.2 458.1 306.8 457.2 308.3 456.0 309.5 454.7 310.5 453.2 311.0 451.8 M261.2 444.2 261.1 444.8 261.3 445.3 261.6 445.9 262.1 446.7 262.9 447.5 264.0 448.3 265.3 449.2 266.8 450.1 268.5 450.9 270.5 451.7 272.6 452.5 274.8 453.1 277.1 453.7 279.5 454.2 282.0 454.6 284.4 454.9 286.9 455.1 289.3 455.2 291.7 455.2 294.0 455.1 296.1 454.9 298.1 454.6 299.8 454.1 301.4 453.6 302.7 453.1 303.8 452.5 304.6 451.9 305.2 451.3 305.5 450.8 305.7 450.0" fill="none" stroke="#000" stroke-width="0.8"/>
<path d="M257.4 435.0 257.3 436.3 257.7 437.8 258.3 439.2 259.3 440.5 260.5 441.8 261.9 442.9 263.6 444.0 265.5 445.1 267.5 446.1 269.8 447.0 272.2 447.9 274.7 448.6 277.3 449.3 280.1 449.9 282.8 450.3 285.6 450.6 288.4 450.8 291.2 450.9 294.0 450.8 296.6 450.6 299.2 450.3 301.6 449.8 303.9 449.2 306.0 448.4 307.9 447.4 309.7 446.3 311.2 445.0 312.4 443.6 313.4 441.9 313.9 440.3 L308.6 438.7 308.3 439.6 307.9 440.3 307.2 441.1 306.4 441.8 305.2 442.6 303.8 443.3 302.1 443.9 300.3 444.4 298.2 444.9 296.0 445.2 293.6 445.4 291.2 445.5 288.7 445.5 286.1 445.4 283.5 445.1 280.9 444.8 278.4 444.3 276.0 443.8 273.6 443.2 271.5 442.5 269.4 441.7 267.6 440.9 266.0 440.0 264.6 439.2 263.5 438.3 262.6 437.6 262.1 436.9 261.8 436.3 261.6 435.9 261.7 435.4Z" fill="#fff" stroke="none"/>
<path d="M257.4 435.0 257.3 436.3 257.7 437.8 258.3 439.2 259.3 440.5 260.5 441.8 261.9 442.9 263.6 444.0 265.5 445.1 267.5 446.1 269.8 447.0 272.2 447.9 274.7 448.6 277.3 449.3 280.1 449.9 282.8 450.3 285.6 450.6 288.4 450.8 291.2 450.9 294.0 450.8 296.6 450.6 299.2 450.3 301.6 449.8 303.9 449.2 306.0 448.4 307.9 447.4 309.7 446.3 311.2 445.0 312.4 443.6 313.4 441.9 313.9 440.3 M261.7 435.4 261.6 435.9 261.8 436.3 262.1 436.9 262.6 437.6 263.5 438.3 264.6 439.2 266.0 440.0 267.6 440.9 269.4 441.7 271.5 442.5 273.6 443.2 276.0 443.8 278.4 444.3 280.9 444.8 283.5 445.1 286.1 445.4 288.7 445.5 291.2 445.5 293.6 445.4 296.0 445.2 298.2 444.9 300.3 444.4 302.1 443.9 303.8 443.3 305.2 442.6 306.4 441.8 307.2 441.1 307.9 440.3 308.3 439.6 308.6 438.7" fill="none" stroke="#000" stroke-width="0.8"/>
<path d="M261.4 420.8 261.4 421.9 261.8 423.4 262.6 424.6 263.6 425.8 264.9 426.9 266.3 427.9 268.0 428.9 269.9 429.8 272.0 430.7 274.2 431.5 276.6 432.2 279.2 432.8 281.8 433.4 284.5 433.8 287.3 434.2 290.1 434.4 292.9 434.5 295.7 434.5 298.4 434.3 301.1 434.0 303.7 433.6 306.1 433.0 308.4 432.3 310.5 431.4 312.5 430.4 314.2 429.2 315.7 427.8 317.0 426.3 317.9 424.6 318.5 422.9 L313.2 421.3 312.9 422.3 312.4 423.2 311.7 424.0 310.8 424.8 309.6 425.6 308.2 426.4 306.5 427.1 304.6 427.7 302.6 428.2 300.3 428.6 298.0 428.9 295.5 429.1 292.9 429.2 290.4 429.1 287.8 429.0 285.2 428.7 282.7 428.4 280.2 427.9 277.9 427.4 275.7 426.8 273.6 426.2 271.8 425.5 270.1 424.7 268.7 424.0 267.6 423.2 266.7 422.6 266.1 421.9 265.8 421.5 265.7 421.3 265.7 420.8Z" fill="#fff" stroke="none"/>
<path d="M261.4 420.8 261.4 421.9 261.8 423.4 262.6 424.6 263.6 425.8 264.9 426.9 266.3 427.9 268.0 428.9 269.9 429.8 272.0 430.7 274.2 431.5 276.6 432.2 279.2 432.8 281.8 433.4 284.5 433.8 287.3 434.2 290.1 434.4 292.9 434.5 295.7 434.5 298.4 434.3 301.1 434.0 303.7 433.6 306.1 433.0 308.4 432.3 310.5 431.4 312.5 430.4 314.2 429.2 315.7 427.8 317.0 426.3 317.9 424.6 318.5 422.9 M265.7 420.8 265.7 421.3 265.8 421.5 266.1 421.9 266.7 422.6 267.6 423.2 268.7 424.0 270.1 424.7 271.8 425.5 273.6 426.2 275.7 426.8 277.9 427.4 280.2 427.9 282.7 428.4 285.2 428.7 287.8 429.0 290.4 429.1 292.9 429.2 295.5 429.1 298.0 428.9 300.3 428.6 302.6 428.2 304.6 427.7 306.5 427.1 308.2 426.4 309.6 425.6 310.8 424.8 311.7 424.0 312.4 423.2 312.9 422.3 313.2 421.3" fill="none" stroke="#000" stroke-width="0.8"/>
<path d="M265.8 399.7 265.8 400.8 266.3 402.2 267.1 403.5 268.1 404.6 269.4 405.6 270.9 406.7 272.6 407.6 274.5 408.6 276.6 409.4 278.9 410.2 281.4 411.0 284.0 411.6 286.6 412.2 289.4 412.7 292.2 413.0 295.1 413.3 298.0 413.4 300.8 413.3 303.6 413.2 306.3 412.9 308.9 412.4 311.4 411.8 313.7 411.1 315.9 410.2 317.8 409.1 319.6 407.8 321.1 406.4 322.4 404.8 323.3 403.0 323.9 401.3 L318.6 399.7 318.3 400.8 317.8 401.7 317.1 402.6 316.1 403.5 314.9 404.4 313.4 405.2 311.7 405.9 309.8 406.5 307.7 407.1 305.5 407.5 303.1 407.8 300.6 408.0 298.0 408.0 295.4 408.0 292.7 407.8 290.1 407.6 287.5 407.2 285.0 406.8 282.6 406.2 280.4 405.6 278.3 404.9 276.4 404.2 274.7 403.5 273.2 402.7 272.0 402.0 271.1 401.3 270.5 400.7 270.2 400.2 270.1 400.0 270.1 399.7Z" fill="#fff" stroke="none"/>
<path d="M265.8 399.7 265.8 400.8 266.3 402.2 267.1 403.5 268.1 404.6 269.4 405.6 270.9 406.7 272.6 407.6 274.5 408.6 276.6 409.4 278.9 410.2 281.4 411.0 284.0 411.6 286.6 412.2 289.4 412.7 292.2 413.0 295.1 413.3 298.0 413.4 300.8 413.3 303.6 413.2 306.3 412.9 308.9 412.4 311.4 411.8 313.7 411.1 315.9 410.2 317.8 409.1 319.6 407.8 321.1 406.4 322.4 404.8 323.3 403.0 323.9 401.3 M270.1 399.7 270.1 400.0 270.2 400.2 270.5 400.7 271.1 401.3 272.0 402.0 273.2 402.7 274.7 403.5 276.4 404.2 278.3 404.9 280.4 405.6 282.6 406.2 285.0 406.8 287.5 407.2 290.1 407.6 292.7 407.8 295.4 408.0 298.0 408.0 300.6 408.0 303.1 407.8 305.5 407.5 307.7 407.1 309.8 406.5 311.7 405.9 313.4 405.2 314.9 404.4 316.1 403.5 317.1 402.6 317.8 401.7 318.3 400.8 318.6 399.7" fill="none" stroke="#000" stroke-width="0.8"/>
<path d="M271.6 377.3 271.6 378.5 272.1 379.8 273.0 381.0 274.0 382.1 275.3 383.1 276.8 384.1 278.5 385.0 280.4 385.8 282.6 386.6 284.8 387.4 287.3 388.0 289.9 388.6 292.5 389.1 295.3 389.4 298.1 389.7 300.9 389.8 303.8 389.8 306.6 389.7 309.3 389.4 312.0 389.1 314.6 388.5 317.1 387.8 319.4 387.0 321.5 386.1 323.4 384.9 325.2 383.6 326.7 382.2 327.9 380.6 328.9 378.8 329.4 377.1 L324.1 375.5 323.8 376.6 323.3 377.5 322.6 378.5 321.6 379.4 320.4 380.3 318.9 381.1 317.3 381.9 315.4 382.6 313.3 383.2 311.0 383.7 308.7 384.1 306.2 384.3 303.6 384.5 301.0 384.6 298.4 384.5 295.8 384.3 293.2 384.0 290.8 383.7 288.4 383.2 286.1 382.7 284.1 382.1 282.2 381.4 280.5 380.7 279.0 380.0 277.8 379.4 276.9 378.7 276.3 378.1 276.0 377.7 275.9 377.6 275.9 377.3Z" fill="#fff" stroke="none"/>
<path d="M271.6 377.3 271.6 378.5 272.1 379.8 273.0 381.0 274.0 382.1 275.3 383.1 276.8 384.1 278.5 385.0 280.4 385.8 282.6 386.6 284.8 387.4 287.3 388.0 289.9 388.6 292.5 389.1 295.3 389.4 298.1 389.7 300.9 389.8 303.8 389.8 306.6 389.7 309.3 389.4 312.0 389.1 314.6 388.5 317.1 387.8 319.4 387.0 321.5 386.1 323.4 384.9 325.2 383.6 326.7 382.2 327.9 380.6 328.9 378.8 329.4 377.1 M275.9 377.3 275.9 377.6 276.0 377.7 276.3 378.1 276.9 378.7 277.8 379.4 279.0 380.0 280.5 380.7 282.2 381.4 284.1 382.1 286.1 382.7 288.4 383.2 290.8 383.7 293.2 384.0 295.8 384.3 298.4 384.5 301.0 384.6 303.6 384.5 306.2 384.3 308.7 384.1 311.0 383.7 313.3 383.2 315.4 382.6 317.3 381.9 318.9 381.1 320.4 380.3 321.6 379.4 322.6 378.5 323.3 377.5 323.8 376.6 324.1 375.5" fill="none" stroke="#000" stroke-width="0.8"/>
<path d="M277.5 354.9 277.5 356.0 278.0 357.4 278.8 358.6 279.9 359.6 281.2 360.6 282.6 361.6 284.3 362.4 286.2 363.3 288.3 364.1 290.6 364.8 293.0 365.4 295.5 366.0 298.2 366.5 300.9 366.9 303.7 367.1 306.5 367.3 309.3 367.3 312.1 367.2 314.8 367.0 317.5 366.7 320.0 366.2 322.5 365.5 324.7 364.7 326.9 363.8 328.8 362.7 330.6 361.5 332.1 360.0 333.3 358.4 334.2 356.7 334.8 355.0 L329.5 353.4 329.2 354.5 328.7 355.4 328.0 356.3 327.0 357.2 325.8 358.0 324.4 358.8 322.7 359.6 320.8 360.2 318.8 360.8 316.5 361.3 314.2 361.6 311.7 361.9 309.2 362.0 306.6 362.0 304.0 361.9 301.4 361.8 298.9 361.5 296.4 361.1 294.1 360.6 291.9 360.1 289.8 359.5 287.9 358.9 286.3 358.2 284.8 357.5 283.7 356.9 282.8 356.2 282.2 355.7 281.9 355.3 281.8 355.2 281.8 354.9Z" fill="#fff" stroke="none"/>
<path d="M277.5 354.9 277.5 356.0 278.0 357.4 278.8 358.6 279.9 359.6 281.2 360.6 282.6 361.6 284.3 362.4 286.2 363.3 288.3 364.1 290.6 364.8 293.0 365.4 295.5 366.0 298.2 366.5 300.9 366.9 303.7 367.1 306.5 367.3 309.3 367.3 312.1 367.2 314.8 367.0 317.5 366.7 320.0 366.2 322.5 365.5 324.7 364.7 326.9 363.8 328.8 362.7 330.6 361.5 332.1 360.0 333.3 358.4 334.2 356.7 334.8 355.0 M281.8 354.9 281.8 355.2 281.9 355.3 282.2 355.7 282.8 356.2 283.7 356.9 284.8 357.5 286.3 358.2 287.9 358.9 289.8 359.5 291.9 360.1 294.1 360.6 296.4 361.1 298.9 361.5 301.4 361.8 304.0 361.9 306.6 362.0 309.2 362.0 311.7 361.9 314.2 361.6 316.5 361.3 318.8 360.8 320.8 360.2 322.7 359.6 324.4 358.8 325.8 358.0 327.0 357.2 328.0 356.3 328.7 355.4 329.2 354.5 329.5 353.4" fill="none" stroke="#000" stroke-width="0.8"/>
<path d="M282.6 332.5 282.6 333.6 283.1 335.0 283.9 336.2 285.0 337.2 286.3 338.2 287.8 339.2 289.5 340.1 291.4 340.9 293.5 341.7 295.8 342.4 298.2 343.1 300.7 343.7 303.4 344.2 306.2 344.6 309.0 344.9 311.8 345.0 314.7 345.1 317.5 345.0 320.3 344.8 322.9 344.5 325.5 344.0 328.0 343.4 330.3 342.6 332.5 341.7 334.4 340.6 336.2 339.3 337.7 337.9 339.0 336.3 339.9 334.5 340.5 332.8 L335.2 331.2 334.9 332.3 334.4 333.2 333.6 334.1 332.7 335.0 331.5 335.9 330.0 336.7 328.3 337.4 326.4 338.1 324.3 338.6 322.1 339.1 319.7 339.4 317.2 339.7 314.6 339.8 312.0 339.8 309.4 339.7 306.7 339.5 304.2 339.2 301.7 338.8 299.3 338.3 297.1 337.8 295.0 337.2 293.1 336.5 291.4 335.8 290.0 335.1 288.8 334.5 287.9 333.8 287.3 333.3 287.0 332.9 286.9 332.8 286.9 332.5Z" fill="#fff" stroke="none"/>
<path d="M282.6 332.5 282.6 333.6 283.1 335.0 283.9 336.2 285.0 337.2 286.3 338.2 287.8 339.2 289.5 340.1 291.4 340.9 293.5 341.7 295.8 342.4 298.2 343.1 300.7 343.7 303.4 344.2 306.2 344.6 309.0 344.9 311.8 345.0 314.7 345.1 317.5 345.0 320.3 344.8 322.9 344.5 325.5 344.0 328.0 343.4 330.3 342.6 332.5 341.7 334.4 340.6 336.2 339.3 337.7 337.9 339.0 336.3 339.9 334.5 340.5 332.8 M286.9 332.5 286.9 332.8 287.0 332.9 287.3 333.3 287.9 333.8 288.8 334.5 290.0 335.1 291.4 335.8 293.1 336.5 295.0 337.2 297.1 337.8 299.3 338.3 301.7 338.8 304.2 339.2 306.7 339.5 309.4 339.7 312.0 339.8 314.6 339.8 317.2 339.7 319.7 339.4 322.1 339.1 324.3 338.6 326.4 338.1 328.3 337.4 330.0 336.7 331.5 335.9 332.7 335.0 333.6 334.1 334.4 333.2 334.9 332.3 335.2 331.2" fill="none" stroke="#000" stroke-width="0.8"/>
<path d="M288.0 308.6 288.0 309.8 288.5 311.1 289.3 312.3 290.4 313.4 291.7 314.4 293.2 315.4 294.9 316.4 296.8 317.2 298.9 318.1 301.2 318.9 303.7 319.6 306.3 320.2 308.9 320.8 311.7 321.2 314.5 321.5 317.4 321.7 320.2 321.8 323.1 321.8 325.8 321.6 328.5 321.2 331.1 320.8 333.6 320.2 335.9 319.4 338.1 318.5 340.1 317.4 341.8 316.1 343.3 314.7 344.6 313.1 345.5 311.3 346.1 309.6 L340.8 308.0 340.5 309.1 340.0 310.0 339.3 310.9 338.3 311.8 337.1 312.7 335.6 313.5 334.0 314.2 332.0 314.9 330.0 315.4 327.7 315.8 325.3 316.2 322.8 316.4 320.2 316.5 317.6 316.5 315.0 316.3 312.3 316.1 309.8 315.8 307.3 315.3 304.9 314.8 302.6 314.2 300.5 313.6 298.6 312.9 296.9 312.2 295.5 311.4 294.3 310.7 293.3 310.0 292.7 309.5 292.4 309.0 292.3 308.9 292.3 308.6Z" fill="#fff" stroke="none"/>
<path d="M288.0 308.6 288.0 309.8 288.5 311.1 289.3 312.3 290.4 313.4 291.7 314.4 293.2 315.4 294.9 316.4 296.8 317.2 298.9 318.1 301.2 318.9 303.7 319.6 306.3 320.2 308.9 320.8 311.7 321.2 314.5 321.5 317.4 321.7 320.2 321.8 323.1 321.8 325.8 321.6 328.5 321.2 331.1 320.8 333.6 320.2 335.9 319.4 338.1 318.5 340.1 317.4 341.8 316.1 343.3 314.7 344.6 313.1 345.5 311.3 346.1 309.6 M292.3 308.6 292.3 308.9 292.4 309.0 292.7 309.5 293.3 310.0 294.3 310.7 295.5 311.4 296.9 312.2 298.6 312.9 300.5 313.6 302.6 314.2 304.9 314.8 307.3 315.3 309.8 315.8 312.3 316.1 315.0 316.3 317.6 316.5 320.2 316.5 322.8 316.4 325.3 316.2 327.7 315.8 330.0 315.4 332.0 314.9 334.0 314.2 335.6 313.5 337.1 312.7 338.3 311.8 339.3 310.9 340.0 310.0 340.5 309.1 340.8 308.0" fill="none" stroke="#000" stroke-width="0.8"/>
<path d="M294.0 286.1 294.0 287.3 294.5 288.6 295.3 289.8 296.4 290.9 297.7 291.9 299.1 292.9 300.8 293.9 302.7 294.8 304.8 295.6 307.1 296.4 309.5 297.1 312.1 297.8 314.7 298.3 317.5 298.8 320.3 299.1 323.1 299.3 325.9 299.4 328.7 299.4 331.5 299.2 334.2 298.9 336.7 298.5 339.2 297.9 341.5 297.1 343.6 296.2 345.6 295.2 347.3 293.9 348.9 292.5 350.1 290.9 351.1 289.1 351.6 287.4 L346.3 285.8 346.0 286.9 345.5 287.8 344.8 288.7 343.8 289.6 342.6 290.4 341.2 291.2 339.5 291.9 337.6 292.6 335.6 293.1 333.3 293.5 331.0 293.8 328.5 294.0 326.0 294.1 323.4 294.1 320.7 293.9 318.2 293.7 315.6 293.3 313.1 292.9 310.8 292.3 308.5 291.8 306.5 291.1 304.6 290.4 302.9 289.7 301.4 288.9 300.2 288.2 299.3 287.5 298.7 287.0 298.4 286.5 298.3 286.4 298.3 286.1Z" fill="#fff" stroke="none"/>
<path d="M294.0 286.1 294.0 287.3 294.5 288.6 295.3 289.8 296.4 290.9 297.7 291.9 299.1 292.9 300.8 293.9 302.7 294.8 304.8 295.6 307.1 296.4 309.5 297.1 312.1 297.8 314.7 298.3 317.5 298.8 320.3 299.1 323.1 299.3 325.9 299.4 328.7 299.4 331.5 299.2 334.2 298.9 336.7 298.5 339.2 297.9 341.5 297.1 343.6 296.2 345.6 295.2 347.3 293.9 348.9 292.5 350.1 290.9 351.1 289.1 351.6 287.4 M298.3 286.1 298.3 286.4 298.4 286.5 298.7 287.0 299.3 287.5 300.2 288.2 301.4 288.9 302.9 289.7 304.6 290.4 306.5 291.1 308.5 291.8 310.8 292.3 313.1 292.9 315.6 293.3 318.2 293.7 320.7 293.9 323.4 294.1 326.0 294.1 328.5 294.0 331.0 293.8 333.3 293.5 335.6 293.1 337.6 292.6 339.5 291.9 341.2 291.2 342.6 290.4 343.8 289.6 344.8 288.7 345.5 287.8 346.0 286.9 346.3 285.8" fill="none" stroke="#000" stroke-width="0.8"/>
<path d="M299.7 263.7 299.8 264.9 300.3 266.2 301.1 267.4 302.1 268.4 303.4 269.4 304.9 270.3 306.6 271.2 308.5 272.0 310.6 272.8 312.9 273.5 315.3 274.1 317.9 274.7 320.5 275.1 323.3 275.4 326.1 275.7 328.9 275.8 331.7 275.8 334.5 275.6 337.2 275.3 339.9 274.9 342.5 274.4 344.9 273.7 347.2 272.9 349.3 271.9 351.2 270.7 352.9 269.4 354.4 268.0 355.7 266.3 356.6 264.6 357.1 262.9 L351.8 261.3 351.5 262.5 351.0 263.4 350.3 264.3 349.3 265.2 348.1 266.1 346.7 266.9 345.0 267.7 343.2 268.4 341.1 269.1 338.9 269.6 336.5 270.0 334.0 270.3 331.5 270.5 328.9 270.5 326.3 270.5 323.7 270.3 321.2 270.1 318.7 269.7 316.4 269.3 314.2 268.8 312.1 268.2 310.2 267.6 308.5 267.0 307.1 266.3 305.9 265.6 305.0 265.0 304.4 264.5 304.1 264.1 304.0 263.9 304.0 263.7Z" fill="#fff" stroke="none"/>
<path d="M299.7 263.7 299.8 264.9 300.3 266.2 301.1 267.4 302.1 268.4 303.4 269.4 304.9 270.3 306.6 271.2 308.5 272.0 310.6 272.8 312.9 273.5 315.3 274.1 317.9 274.7 320.5 275.1 323.3 275.4 326.1 275.7 328.9 275.8 331.7 275.8 334.5 275.6 337.2 275.3 339.9 274.9 342.5 274.4 344.9 273.7 347.2 272.9 349.3 271.9 351.2 270.7 352.9 269.4 354.4 268.0 355.7 266.3 356.6 264.6 357.1 262.9 M304.0 263.7 304.0 263.9 304.1 264.1 304.4 264.5 305.0 265.0 305.9 265.6 307.1 266.3 308.5 267.0 310.2 267.6 312.1 268.2 314.2 268.8 316.4 269.3 318.7 269.7 321.2 270.1 323.7 270.3 326.3 270.5 328.9 270.5 331.5 270.5 334.0 270.3 336.5 270.0 338.9 269.6 341.1 269.1 343.2 268.4 345.0 267.7 346.7 266.9 348.1 266.1 349.3 265.2 350.3 264.3 351.0 263.4 351.5 262.5 351.8 261.3" fill="none" stroke="#000" stroke-width="0.8"/>
<path d="M305.9 240.9 306.0 242.0 306.5 243.3 307.3 244.5 308.4 245.5 309.7 246.4 311.1 247.3 312.8 248.1 314.7 248.9 316.8 249.6 319.0 250.2 321.4 250.8 323.9 251.3 326.5 251.7 329.2 252.0 331.9 252.2 334.6 252.3 337.4 252.3 340.1 252.1 342.7 251.8 345.3 251.4 347.8 250.9 350.2 250.2 352.4 249.4 354.4 248.5 356.3 247.4 357.9 246.2 359.4 244.8 360.5 243.3 361.4 241.6 361.9 240.0 L356.6 238.4 356.3 239.5 355.9 240.3 355.2 241.1 354.3 241.9 353.2 242.8 351.8 243.6 350.2 244.3 348.4 245.0 346.5 245.6 344.3 246.1 342.0 246.5 339.6 246.8 337.1 246.9 334.6 247.0 332.1 247.0 329.6 246.9 327.1 246.7 324.7 246.4 322.4 246.0 320.2 245.5 318.2 245.0 316.3 244.4 314.7 243.8 313.2 243.2 312.1 242.6 311.2 242.0 310.6 241.5 310.3 241.1 310.2 241.0 310.2 240.7Z" fill="#fff" stroke="none"/>
<path d="M305.9 240.9 306.0 242.0 306.5 243.3 307.3 244.5 308.4 245.5 309.7 246.4 311.1 247.3 312.8 248.1 314.7 248.9 316.8 249.6 319.0 250.2 321.4 250.8 323.9 251.3 326.5 251.7 329.2 252.0 331.9 252.2 334.6 252.3 337.4 252.3 340.1 252.1 342.7 251.8 345.3 251.4 347.8 250.9 350.2 250.2 352.4 249.4 354.4 248.5 356.3 247.4 357.9 246.2 359.4 244.8 360.5 243.3 361.4 241.6 361.9 240.0 M310.2 240.7 310.2 241.0 310.3 241.1 310.6 241.5 311.2 242.0 312.1 242.6 313.2 243.2 314.7 243.8 316.3 244.4 318.2 245.0 320.2 245.5 322.4 246.0 324.7 246.4 327.1 246.7 329.6 246.9 332.1 247.0 334.6 247.0 337.1 246.9 339.6 246.8 342.0 246.5 344.3 246.1 346.5 245.6 348.4 245.0 350.2 244.3 351.8 243.6 353.2 242.8 354.3 241.9 355.2 241.1 355.9 240.3 356.3 239.5 356.6 238.4" fill="none" stroke="#000" stroke-width="0.8"/>
<path d="M312.4 219.8 312.4 220.9 312.9 222.3 313.7 223.4 314.6 224.5 315.8 225.5 317.2 226.4 318.8 227.2 320.6 228.1 322.5 228.8 324.6 229.5 326.8 230.2 329.1 230.7 331.6 231.2 334.1 231.6 336.6 231.9 339.2 232.1 341.7 232.2 344.2 232.2 346.7 232.0 349.1 231.8 351.4 231.4 353.6 230.9 355.7 230.3 357.6 229.6 359.3 228.7 360.9 227.7 362.3 226.5 363.4 225.1 364.2 223.5 364.7 222.1 L359.4 220.5 359.2 221.3 358.8 221.9 358.3 222.6 357.5 223.2 356.5 223.9 355.3 224.5 353.9 225.1 352.2 225.6 350.4 226.0 348.4 226.4 346.2 226.6 344.0 226.8 341.7 226.9 339.4 226.8 337.0 226.7 334.7 226.5 332.4 226.2 330.1 225.8 328.0 225.4 326.0 224.9 324.1 224.3 322.3 223.7 320.8 223.1 319.5 222.4 318.4 221.8 317.6 221.1 317.1 220.6 316.8 220.2 316.7 220.1 316.7 219.8Z" fill="#fff" stroke="none"/>
<path d="M312.4 219.8 312.4 220.9 312.9 222.3 313.7 223.4 314.6 224.5 315.8 225.5 317.2 226.4 318.8 227.2 320.6 228.1 322.5 228.8 324.6 229.5 326.8 230.2 329.1 230.7 331.6 231.2 334.1 231.6 336.6 231.9 339.2 232.1 341.7 232.2 344.2 232.2 346.7 232.0 349.1 231.8 351.4 231.4 353.6 230.9 355.7 230.3 357.6 229.6 359.3 228.7 360.9 227.7 362.3 226.5 363.4 225.1 364.2 223.5 364.7 222.1 M316.7 219.8 316.7 220.1 316.8 220.2 317.1 220.6 317.6 221.1 318.4 221.8 319.5 222.4 320.8 223.1 322.3 223.7 324.1 224.3 326.0 224.9 328.0 225.4 330.1 225.8 332.4 226.2 334.7 226.5 337.0 226.7 339.4 226.8 341.7 226.9 344.0 226.8 346.2 226.6 348.4 226.4 350.4 226.0 352.2 225.6 353.9 225.1 355.3 224.5 356.5 223.9 357.5 223.2 358.3 222.6 358.8 221.9 359.2 221.3 359.4 220.5" fill="none" stroke="#000" stroke-width="0.8"/>
<path d="M316.7 205.1 316.6 206.3 316.9 207.7 317.5 209.0 318.4 210.3 319.5 211.5 320.7 212.7 322.2 213.7 323.8 214.8 325.6 215.8 327.6 216.7 329.7 217.5 331.9 218.3 334.2 219.0 336.6 219.6 339.0 220.0 341.4 220.4 343.9 220.7 346.3 220.9 348.7 220.9 351.0 220.8 353.2 220.6 355.3 220.3 357.2 219.9 359.1 219.3 360.8 218.6 362.3 217.7 363.6 216.7 364.8 215.5 365.6 214.0 366.1 212.7 L360.8 211.1 360.6 211.7 360.4 212.1 359.9 212.5 359.3 213.0 358.3 213.6 357.2 214.1 355.8 214.5 354.2 214.9 352.5 215.2 350.6 215.4 348.6 215.5 346.5 215.5 344.3 215.4 342.1 215.2 339.8 214.9 337.6 214.5 335.5 214.1 333.4 213.5 331.4 212.9 329.5 212.2 327.7 211.5 326.1 210.7 324.8 209.9 323.6 209.0 322.6 208.2 321.9 207.5 321.4 206.8 321.1 206.3 321.0 205.9 321.0 205.3Z" fill="#fff" stroke="none"/>
<path d="M316.7 205.1 316.6 206.3 316.9 207.7 317.5 209.0 318.4 210.3 319.5 211.5 320.7 212.7 322.2 213.7 323.8 214.8 325.6 215.8 327.6 216.7 329.7 217.5 331.9 218.3 334.2 219.0 336.6 219.6 339.0 220.0 341.4 220.4 343.9 220.7 346.3 220.9 348.7 220.9 351.0 220.8 353.2 220.6 355.3 220.3 357.2 219.9 359.1 219.3 360.8 218.6 362.3 217.7 363.6 216.7 364.8 215.5 365.6 214.0 366.1 212.7 M321.0 205.3 321.0 205.9 321.1 206.3 321.4 206.8 321.9 207.5 322.6 208.2 323.6 209.0 324.8 209.9 326.1 210.7 327.7 211.5 329.5 212.2 331.4 212.9 333.4 213.5 335.5 214.1 337.6 214.5 339.8 214.9 342.1 215.2 344.3 215.4 346.5 215.5 348.6 215.5 350.6 215.4 352.5 215.2 354.2 214.9 355.8 214.5 357.2 214.1 358.3 213.6 359.3 213.0 359.9 212.5 360.4 212.1 360.6 211.7 360.8 211.1" fill="none" stroke="#000" stroke-width="0.8"/>
</g>
<g id="nut-top" stroke-linejoin="round" stroke-linecap="round">
<path d="M318.6 77.3C320 76.8 322 76.7 324 76.6C325.9 76.5 328.2 76.6 330.3 76.8C332.3 77.1 334.6 77.3 336.1 78.3C337.5 79.3 338.4 81.3 339 82.6C339.6 84 339.8 84.9 339.7 86.5C339.6 88.1 339.2 90.4 338.5 92.3C337.7 94.3 336.5 96.4 335.1 98.1C333.6 99.8 331.5 101.4 329.8 102.5C328.1 103.5 326.2 104.3 324.9 104.4C323.6 104.6 322.8 104.1 322 103.5C321.2 102.8 321 101.8 320.1 100.5C319.2 99.3 317.8 97.6 316.7 96.2C315.7 94.8 314.5 93.7 313.8 92.3C313.1 91 312.4 89.5 312.4 88C312.3 86.4 312.8 84.5 313.3 83.1C313.9 81.8 314.9 80.7 315.7 79.7C316.6 78.8 317.3 77.8 318.6 77.3Z" fill="#fff" stroke="#000" stroke-width="0.8"/>
<path d="M324.3 103.4 323.2 102.6 322.1 101.5 321.2 100.3 320.5 98.8 320 97.2 319.7 95.4 319.6 93.6 319.8 91.7 320.1 89.7 320.6 87.8 321.4 85.9 322.3 84.2 323.4 82.5 324.6 81.1 325.9 79.8 327.3 78.7 328.8 77.9 330.3 77.4 331.8 77.1 333.3 77.1 334.7 77.4 336 77.9" fill="none" stroke="#000" stroke-width="1.1"/>
<ellipse cx="330" cy="91.1" rx="6.5" ry="9" transform="rotate(24 330 91.1)" fill="none" stroke="#000" stroke-width="0.8"/>
<ellipse cx="329.2" cy="90.8" rx="3.8" ry="6.1" transform="rotate(38 329.2 90.8)" fill="none" stroke="#000" stroke-width="0.8"/>
<path d="M322.5 80 325.9 82.4M315.3 90.1 320.7 92.3M318.9 77.6C318.5 78.5 317.1 81 316.5 83.1C315.9 85.2 315.5 89 315.3 90.1M315.3 90.1C315.6 91.2 316.3 94.5 317.2 96.2C318 97.9 319.8 99.8 320.3 100.5" fill="none" stroke="#000" stroke-width="0.8"/>
</g>
<g id="washer" stroke-linejoin="round" stroke-linecap="round">
<path d="M340.9 138.7C341.9 138.6 344 138 346.6 138.1C349.1 138.2 353 138.6 356.3 139.3C359.5 139.9 363 140.9 365.9 142.1C368.9 143.3 371.8 144.8 374 146.5C376.2 148.3 378 150.8 378.8 152.6C379.6 154.3 379.4 155.6 378.8 157C378.3 158.4 377.5 159.9 375.6 161C373.7 162.2 370.4 163.3 367.5 163.9C364.7 164.5 361.5 164.7 358.7 164.7C355.9 164.6 353.3 164.1 350.6 163.5C347.9 162.8 345.1 161.9 342.5 160.6C340 159.4 337.2 157.7 335.3 156.2C333.3 154.7 331.9 153.3 330.9 151.8C329.8 150.3 329.2 148.8 329.2 147.3C329.2 145.9 330.1 144.3 330.9 143.3C331.6 142.3 333.2 141.6 333.7 141.3 L341.3 144.9 344.2 148.5 349.8 149 347.8 143.7 342.1 142.1Z" fill="#fff" stroke="none" stroke-width="0"/>
<path d="M340.9 138.7C341.9 138.6 344 138 346.6 138.1C349.1 138.2 353 138.6 356.3 139.3C359.5 139.9 363 140.9 365.9 142.1C368.9 143.3 371.8 144.8 374 146.5C376.2 148.3 378 150.8 378.8 152.6C379.6 154.3 379.4 155.6 378.8 157C378.3 158.4 377.5 159.9 375.6 161C373.7 162.2 370.4 163.3 367.5 163.9C364.7 164.5 361.5 164.7 358.7 164.7C355.9 164.6 353.3 164.1 350.6 163.5C347.9 162.8 345.1 161.9 342.5 160.6C340 159.4 337.2 157.7 335.3 156.2C333.3 154.7 331.9 153.3 330.9 151.8C329.8 150.3 329.2 148.8 329.2 147.3C329.2 145.9 330.1 144.3 330.9 143.3C331.6 142.3 333.2 141.6 333.7 141.3" fill="none" stroke="#000" stroke-width="1.0"/>
<path d="M333.7 141.3C334.3 141.6 336.4 142.7 337.7 143.3C339 143.9 340.9 144.2 341.3 144.9C341.7 145.6 340.4 146.7 340.1 147.3C339.9 148 339.8 148.7 339.7 149M340.9 138.7C341.1 139.3 341.5 141.3 342.1 142.1C342.8 142.9 344 143 345 143.3C345.9 143.6 347.2 143.2 347.8 143.7C348.4 144.2 348.3 145.3 348.6 146.1C348.9 147 349.6 148.5 349.8 149" fill="none" stroke="#000" stroke-width="0.9"/>
<path d="M329.6 149.4C330.5 150.2 332.3 152.5 334.5 154.2C336.6 155.9 339.9 158.1 342.5 159.4C345.2 160.8 347.9 161.6 350.6 162.3C353.3 162.9 355.9 163.2 358.7 163.2C361.5 163.3 364.9 163 367.5 162.5C370.2 162 373 161.1 374.8 160C376.6 158.9 377.8 156.5 378.4 155.8" fill="none" stroke="#000" stroke-width="0.9"/>
<path d="M339.7 149C340.2 149.4 341 150.8 342.5 151.8C344.1 152.7 346.7 153.9 349 154.6C351.3 155.3 354 155.9 356.3 156.2C358.5 156.5 360.8 156.5 362.7 156.2C364.6 155.9 366.4 155.3 367.5 154.6C368.7 153.9 369.5 153.1 369.6 152.2C369.6 151.2 369 150 368 149C366.9 147.9 365.3 146.9 363.5 146.1C361.7 145.3 359.2 144.5 357.1 144.1C354.9 143.7 352 143.4 350.6 143.5C349.2 143.7 348.9 144.7 348.6 144.9" fill="none" stroke="#000" stroke-width="1.0"/>
<path d="M349.8 149C350.9 149 354.2 149 356.3 149.4C358.3 149.7 360.3 150.4 361.9 151.1C363.5 151.9 365.3 153.3 365.9 153.8M349 146.9C350.2 146.9 354 146.3 356.3 146.5C358.5 146.7 360.8 147.4 362.7 148.1C364.6 148.9 366.7 150.6 367.5 151.1M344.2 148.7C344.8 149.2 346.4 150.9 348.2 151.8C349.9 152.6 352.4 153.3 354.6 153.8C356.9 154.3 360.7 154.5 361.9 154.6" fill="none" stroke="#000" stroke-width="0.8"/>
</g>
<g id="bolt-top" stroke-linejoin="round" stroke-linecap="round">
<path d="M455 147.2 417.9 126.5 M417.9 126.5C417.3 126.7 415.5 126.9 414.6 127.9C413.6 128.8 412.7 130.8 412.2 132.1C411.8 133.4 411.8 134.9 412 135.9C412.1 136.9 413 137.8 413.2 138.2 M413.2 138.2 449.4 158" fill="none" stroke="#000" stroke-width="0.8"/>
<path d="M424.9 132.1 422.1 136.3" fill="none" stroke="#000" stroke-width="0.7"/>
<path d="M455 147.2C456.4 145.6 457.4 143.8 458.8 142.9C460.2 142.1 461.9 141.6 463.5 142C465.1 142.4 466.9 143.6 468.2 145.3C469.5 146.9 470.8 149.8 471.5 151.9C472.2 153.9 472.6 155.4 472.2 157.5C471.8 159.6 470.8 162.6 469.1 164.6C467.5 166.6 464.5 168.6 462.1 169.6C459.7 170.5 456.6 170.7 454.6 170.2C452.6 169.7 451.2 168.2 450.1 166.4C449.1 164.7 448.4 162.2 448.5 159.9C448.5 157.5 449.2 154.5 450.3 152.3C451.4 150.2 453.6 148.7 455 147.2Z" fill="#fff" stroke="#000" stroke-width="0.8"/>
<path d="M461.2 152.3 469.1 149.5 471.8 155.6 468.7 164.6 459.6 169.3 456.9 161.7Z" fill="none" stroke="#000" stroke-width="0.9"/>
<path d="M456 148.1 461.2 152.3M450.3 159.4 456.9 161.7M453.6 169.3 459.6 169.3M456 148.1 464.4 146.2 469.1 149.5M456 148.1 450.3 159.4 453.6 169.3" fill="none" stroke="#000" stroke-width="0.8"/>
</g>
<g id="spring-seat" stroke-linejoin="round" stroke-linecap="round">
<path d="M246.3 510 247.8 514.7 252.5 519.4 254.8 523.2 259.5 524.6 263.3 527.9 271.7 530.2 273.6 533 279.3 532.1 280.2 526.5 282.3 518.5 288.7 514.2 264.2 504.8Z" fill="#fff" stroke="#000" stroke-width="0.9"/>
<path d="M243.1 506.2C243.4 507.2 243.8 508.7 244.9 510C246.1 511.2 247.7 512.5 250.1 513.8C252.5 515 255.9 516.4 259.5 517.5C263.1 518.7 268.1 520.1 271.7 520.6C275.4 521.1 278.2 521.1 281.2 520.6C284.1 520.1 287.6 519 289.6 517.5C291.7 516.1 292.9 513.2 293.6 511.9C294.2 510.5 294.2 511.2 293.4 509.5C292.6 507.9 291.2 504.2 288.7 502C286.2 499.8 282.3 497.8 278.3 496.3C274.4 494.9 269.4 494 265.2 493.5C260.9 493.1 256.2 492.9 252.9 493.5C249.6 494.2 247.1 495.5 245.4 497.3C243.8 499.1 243.4 502.9 243.1 504.3C242.7 505.8 242.7 505.3 243.1 506.2Z" fill="#fff" stroke="#000" stroke-width="0.9"/>
<path d="M243.1 504.3C242.6 502.1 243.8 499.1 245.4 497.3C247.1 495.5 249.6 494.2 252.9 493.5C256.2 492.9 260.9 493.1 265.2 493.5C269.4 494 274.4 494.9 278.3 496.3C282.3 497.8 286.2 499.8 288.7 502C291.2 504.2 293.1 507.3 293.4 509.5C293.7 511.7 292.6 513.7 290.6 515.2C288.5 516.7 284.3 517.9 281.2 518.5C278 519 275.4 519 271.7 518.5C268.1 517.9 263.4 516.5 259.5 515.2C255.6 513.8 251 512.3 248.2 510.5C245.5 508.7 243.5 506.5 243.1 504.3Z" fill="#fff" stroke="#000" stroke-width="1.0"/>
<path d="M251.1 504.8C251.1 503.2 252.5 500 254.8 498.7C257.2 497.4 261.4 496.6 265.2 496.8C268.9 497.1 273.9 498.5 277.4 500.1C280.8 501.8 284.6 504.8 285.9 506.7C287.1 508.6 286.5 510.3 284.9 511.4C283.4 512.5 279.9 513.4 276.5 513.5C273 513.5 267.8 512.4 264.2 511.6C260.6 510.7 257 509.5 254.8 508.4C252.6 507.3 251.1 506.4 251.1 504.8Z" fill="none" stroke="#000" stroke-width="1.0"/>
<path d="M253.4 503.4C254.3 502.9 256.3 500.7 258.6 500.1C260.9 499.5 264.1 499.5 267 499.9C270 500.3 273.8 501.3 276.5 502.5C279.1 503.7 281.9 505.8 283 507.2C284.2 508.5 283.4 510.1 283.5 510.6" fill="none" stroke="#000" stroke-width="0.8"/>
<path d="M265.2 493.5 265.4 495.6M283 498.7 284.2 501.1M290.1 508.6 292.4 510.6M247.1 497.1 248.7 499.2" fill="none" stroke="#000" stroke-width="0.9"/>
<path d="M273.8 514.4 277.2 514.6 277.2 517.8 273.8 517.6ZM251.8 503.7 254.3 505.4 254.6 509.3 252.2 508Z" fill="#555" stroke="#000" stroke-width="0.9"/>
</g>
<g id="shock" stroke-linejoin="round" stroke-linecap="round">
<path d="M193 827.1 176.3 819C175.7 819.7 173.2 821.6 172.3 823.3C171.3 825.1 170.6 827.6 170.4 829.6C170.3 831.5 171.3 834.2 171.5 835.2 L190.3 846.5 200.5 837.3Z" fill="#fff" stroke="#000" stroke-width="0.8"/>
<path d="M171.2 828.2 189.2 837.8" fill="none" stroke="#000" stroke-width="0.8"/>
<ellipse cx="197.5" cy="837" rx="8.2" ry="11.2" transform="rotate(14 197.5 837)" fill="#fff" stroke="#000" stroke-width="0.8"/>
<ellipse cx="197.5" cy="837.2" rx="2.6" ry="3.3" transform="rotate(14 197.5 837.2)" fill="none" stroke="#000" stroke-width="0.8"/>
<path d="M204.2 694.4 L173.7 811.5C174 812.5 173.8 815.4 175.8 817.4C177.8 819.4 181.9 821.9 185.5 823.3C189.1 824.8 193.9 825.8 197.3 826C200.7 826.3 203.9 825.8 205.9 824.9C208 824.1 209.1 821.8 209.7 821.2 L241.6 696.4Z" fill="#fff" stroke="#000" stroke-width="0.8"/>
<path d="M204.8 822.3 236.5 701.7" fill="none" stroke="#000" stroke-width="0.8"/>
<path d="M207 823.3 239.1 689" fill="none" stroke="#000" stroke-width="0.6" stroke-dasharray="1.2 1"/>
<path d="M206.9 678.9 L204.9 690.3C206.3 691.9 210.4 697.7 213.6 699.7C216.9 701.8 221 702.2 224.4 702.7C227.7 703.2 231 703.6 233.8 702.7C236.6 701.8 239.9 698.2 241.2 697.3 L242.5 684.9Z" fill="#fff" stroke="#000" stroke-width="0.8"/>
<path d="M204.6 694.4C206.1 695.9 210.3 701.7 213.6 703.8C216.9 705.8 221 706 224.4 706.5C227.7 706.9 231 707 233.8 706.2C236.5 705.4 239.6 702.5 240.8 701.7" fill="none" stroke="#000" stroke-width="0.8"/>
<path d="M200.2 706.5C201.7 707.4 206.2 710.7 209.6 712.1C212.9 713.5 216.6 714.3 220.3 714.8C224 715.3 229.8 715.1 231.7 715.2" fill="none" stroke="#000" stroke-width="0.8"/>
<ellipse cx="224.6" cy="680.9" rx="18.1" ry="7.4" transform="rotate(9 224.6 680.9)" fill="#fff" stroke="#000" stroke-width="0.8"/>
<path d="M240.8 686 240.1 686.8 239 687.6 237.7 688.2 236 688.7 234.2 689.1 232.1 689.3 229.9 689.4 227.6 689.3 225.2 689.1 222.8 688.8 220.5 688.3 218.2 687.7 216.1 687 214.1 686.1 212.4 685.2 210.9 684.3 209.7 683.3 208.8 682.2 208.2 681.2 208 680.2" fill="none" stroke="#000" stroke-width="0.8"/>
<path d="M240.7 592 L220.3 678.9C221 679.5 222.7 681.9 224.4 682.3C226 682.6 229.4 681.4 230.4 681.2 L249.2 594.4Z" fill="#fff" stroke="#000" stroke-width="0.8"/>
<path d="M248 597.1 228.9 680.4" fill="none" stroke="#000" stroke-width="0.8"/>
<ellipse cx="247.8" cy="588.5" rx="13.2" ry="5.8" transform="rotate(14 247.8 588.5)" fill="#fff" stroke="#000" stroke-width="0.8"/>
<ellipse cx="247.8" cy="587.1" rx="13.2" ry="5.8" transform="rotate(14 247.8 587.1)" fill="#fff" stroke="#000" stroke-width="0.8"/>
<path d="M242.1 576 242.1 582.6 247.3 587.8 254.3 586.4 253.9 582.6 248.2 577.9Z" fill="#fff" stroke="#000" stroke-width="0.8"/>
<path d="M248.2 578.9 247.3 587.5" fill="none" stroke="#000" stroke-width="0.8"/>
<path d="M263.7 562.9 L249.2 554.9C248.1 555.3 244.4 555.8 242.6 557.2C240.7 558.6 239 561.4 238.1 563.3C237.1 565.3 236.8 567.3 236.9 569C237.1 570.6 238.5 572.5 238.8 573.2 L252.5 581.2 259.5 584.5Z" fill="#fff" stroke="#000" stroke-width="0.8"/>
<path d="M237.4 567.6 251.8 575.9" fill="none" stroke="#000" stroke-width="0.8"/>
<ellipse cx="259.5" cy="573.9" rx="7.9" ry="10.7" transform="rotate(12 259.5 573.9)" fill="#fff" stroke="#000" stroke-width="0.8"/>
<ellipse cx="259.5" cy="574.4" rx="2.1" ry="3.8" transform="rotate(22 259.5 574.4)" fill="none" stroke="#000" stroke-width="0.8"/>
</g>
<g id="bolt-bottom" stroke-linejoin="round" stroke-linecap="round">
<path d="M106.6 778.5 100.5 779.9 96.8 784.6 94.4 792.1 99.1 800.1 103.3 802.9 109.5 800.1 113.2 788.8Z" fill="#fff" stroke="#000" stroke-width="0.8"/>
<path d="M100.5 779.9 103.3 786 100.1 793.5 99.1 800.1M96.8 784.6 94.4 792.1" fill="none" stroke="#000" stroke-width="0.8"/>
<path d="M106.6 778.5C108.1 778.2 110.7 778.5 112.3 779.4C113.8 780.3 115.3 782.1 116 783.6C116.8 785.2 117 786.9 116.8 788.8C116.6 790.8 116.1 793.5 115.1 795.4C114.1 797.3 112.4 799.1 110.9 800.1C109.4 801.1 107.6 801.7 106.2 801.5C104.8 801.4 103.3 800.5 102.4 799.2C101.5 797.8 100.8 795.6 100.5 793.5C100.3 791.5 100.5 789 101 786.9C101.5 784.9 102.4 782.7 103.3 781.3C104.3 779.9 105.1 778.8 106.6 778.5Z" fill="#fff" stroke="#000" stroke-width="0.8"/>
<path d="M143.3 805.3 L109 785.1C108.4 785.4 106.2 786.2 105.2 787.4C104.3 788.6 103.5 790.5 103.3 792.1C103.2 793.7 104.1 796 104.3 796.8 L136.3 814.2C137 814.3 139.2 815.4 140.5 815C141.8 814.6 143.1 813.1 143.8 811.9C144.5 810.6 144.8 808.7 144.7 807.6C144.7 806.5 143.6 805.7 143.3 805.3Z" fill="#fff" stroke="#000" stroke-width="0.8"/>
<path d="M131.1 802C130.7 802.6 129.2 804.5 128.7 805.7C128.3 807 128.4 808.5 128.5 809.5C128.6 810.5 129.2 811.2 129.4 811.6M143.3 805.3C142.6 805.4 140.2 805.4 139.1 806.2C138 807 137 808.6 136.6 810C136.1 811.3 136.3 813.5 136.3 814.2M131.1 802 138.2 806.2M129.4 811.6 136.3 814.2" fill="none" stroke="#000" stroke-width="0.8"/>
</g>
<g id="nut-bottom" stroke-linejoin="round" stroke-linecap="round">
<path d="M256.7 853.7C256 853.1 254.2 850.8 252.8 850.2C251.4 849.6 250 849.4 248.5 850C246.9 850.6 244.9 852.2 243.4 854C241.8 855.7 240.1 858.3 239 860.7C238 863.1 237.2 866 237.1 868.2C237 870.4 237.6 872.4 238.3 873.8C239 875.1 240.3 875.9 241.4 876.4C242.5 876.8 244.3 876.5 244.8 876.5" fill="none" stroke="#000" stroke-width="0.9"/>
<path d="M254.7 854.2C254.2 854 252.7 852.9 251.4 853C250 853 248 853.4 246.5 854.4C245 855.4 243.3 857.2 242.2 859C241 860.8 240 863.3 239.7 865.3C239.5 867.3 240 869.6 240.7 871.1C241.4 872.7 243.5 874 244.1 874.5" fill="none" stroke="#000" stroke-width="0.7"/>
<path d="M245.1 855.3C246.2 854.4 250 853.1 251.4 853.2C252.7 853.4 255.6 855.5 256.7 856.4C257.8 857.3 260.4 859.9 260.9 861C261.5 862.1 261.8 864.6 261.6 865.8C261.4 867 260.3 870 259.3 871.1C258.4 872.2 255 874.8 253.5 875.2C252.1 875.7 248.3 875.4 247 875.1C245.7 874.8 243.1 873.6 242.4 872.7C241.7 871.7 240.7 868.3 240.6 866.9C240.6 865.4 241.4 861.8 241.9 860.5C242.4 859.1 244 856.1 245.1 855.3Z" fill="#fff" stroke="#000" stroke-width="1.0"/>
<path d="M245.1 855.3 248.5 859.5 246.1 867.3 247.1 875M240.7 866.9 246.1 867.3M248.5 859.5 256.2 856.5" fill="none" stroke="#000" stroke-width="1.0"/>
<ellipse cx="255.8" cy="866.3" rx="5.4" ry="7.7" transform="rotate(20 255.8 866.3)" fill="none" stroke="#000" stroke-width="1.0"/>
<ellipse cx="256" cy="866.3" rx="3.8" ry="5.7" transform="rotate(20 256 866.3)" fill="none" stroke="#000" stroke-width="0.9"/>
</g>
<g id="labels">
<line class="ld" x1="287.3" y1="45.8" x2="319.3" y2="76.8"/>
<line class="ld" x1="385.1" y1="90.9" x2="369.1" y2="141.7"/>
<line class="ld" x1="488.7" y1="119.2" x2="446" y2="141.8"/>
<line class="ld" x1="395.8" y1="290" x2="354" y2="284.6"/>
<line class="ld" x1="271.5" y1="750" x2="230.4" y2="744.7"/>
<line class="ld" x1="51" y1="804.4" x2="94.9" y2="786"/>
<line class="ld" x1="253.4" y1="876.4" x2="272.5" y2="920.4"/>
<line class="ld" x1="293.2" y1="509.4" x2="344.8" y2="512.3"/>
<clipPath id="one0"><path d="M274.4 22.0H281.2V38.5H279.5V35.0H274.4Z"/></clipPath>
<g clip-path="url(#one0)"><text class="lbl" transform="translate(274.31 38.00) scale(1.0000 1)" font-size="20.4">1</text></g>
<text class="lbl" transform="translate(385.67 83.00) scale(1.0007 1)" font-size="20.4">2</text>
<text class="lbl" transform="translate(495.09 122.20) scale(1.0442 1)" font-size="20.4">3</text>
<text class="lbl" transform="translate(404.28 302.00) scale(0.9047 1)" font-size="20.4">4</text>
<text class="lbl" transform="translate(356.03 521.80) scale(0.9409 1)" font-size="20.4">5</text>
<text class="lbl" transform="translate(279.81 756.40) scale(1.0517 1)" font-size="20.4">6</text>
<text class="lbl" transform="translate(25.87 819.00) scale(0.9813 1)" font-size="20.4">7</text>
<clipPath id="one7"><path d="M270.8 929.0H277.6V945.5H275.9V942.0H270.8Z"/></clipPath>
<g clip-path="url(#one7)"><text class="lbl" transform="translate(270.71 945.00) scale(1.0000 1)" font-size="20.4">1</text></g>
<text class="lbl" transform="translate(495.30 360.60) scale(0.9949 1)" font-size="20.2">© 2011 Polaris Sales Inc.</text>
<text class="lbl" transform="translate(471.44 628.30) scale(0.8960 1)" font-size="24.0">FRONT</text>
<path class="ld" d="M515.9 556 L612.7 595.1 M602 572.1 L612.7 595.1 L584 607.9"/>
</g>
<g id="watermark" style="mix-blend-mode:multiply" transform="translate(91.2 916.9) rotate(-54.29) scale(1.144 0.905)"><text class="wm" font-size="74" fill="#e2e2e2" stroke="#c4c4c4" stroke-width="3.4" paint-order="stroke" x="0" y="0">www.polarisersatzteile.de</text></g>
</svg>
</body>
</html>
